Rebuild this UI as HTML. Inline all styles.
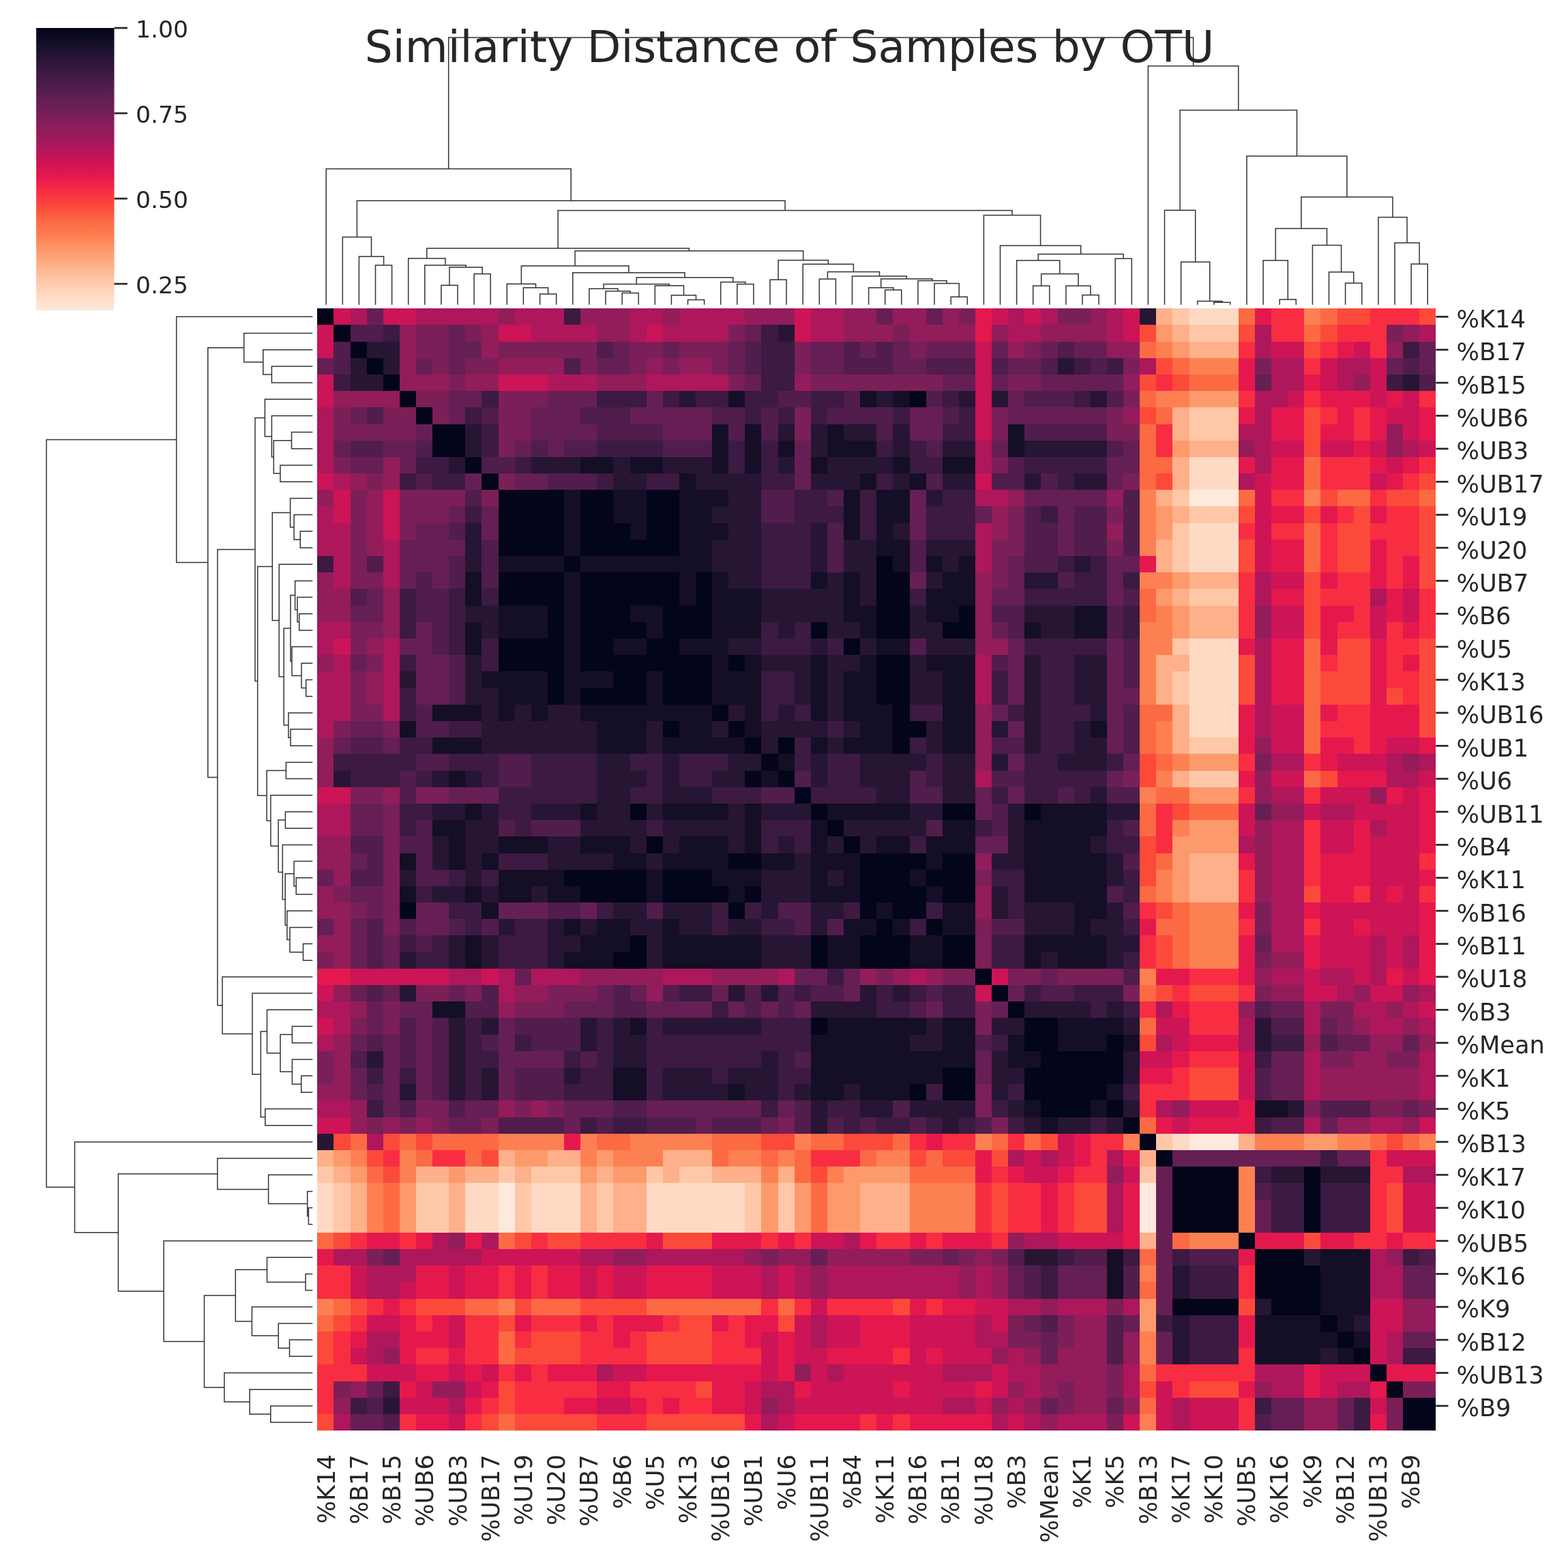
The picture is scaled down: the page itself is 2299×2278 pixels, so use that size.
<!DOCTYPE html><html><head><meta charset="utf-8"><style>html,body{margin:0;padding:0;background:#fff;overflow:hidden;}svg{display:block;}text{font-family:"DejaVu Sans","Liberation Sans",sans-serif;fill:#262626;}</style></head><body>
<svg width="2299" height="2278" viewBox="0 0 2299 2278">
<rect width="100%" height="100%" fill="#fff"/>
<defs><linearGradient id="cb" x1="0" y1="0" x2="0" y2="1"><stop offset="0.000" stop-color="#03051a"/><stop offset="0.025" stop-color="#0b0920"/><stop offset="0.050" stop-color="#130e25"/><stop offset="0.075" stop-color="#1c112c"/><stop offset="0.100" stop-color="#251433"/><stop offset="0.125" stop-color="#2f1739"/><stop offset="0.150" stop-color="#391940"/><stop offset="0.175" stop-color="#431b45"/><stop offset="0.200" stop-color="#4c1c4a"/><stop offset="0.225" stop-color="#561e4e"/><stop offset="0.250" stop-color="#611f52"/><stop offset="0.275" stop-color="#6b1f55"/><stop offset="0.300" stop-color="#751f58"/><stop offset="0.325" stop-color="#7f1e59"/><stop offset="0.350" stop-color="#8b1d5a"/><stop offset="0.375" stop-color="#961b5b"/><stop offset="0.400" stop-color="#a3195b"/><stop offset="0.425" stop-color="#b0175b"/><stop offset="0.450" stop-color="#bf1559"/><stop offset="0.475" stop-color="#cd1457"/><stop offset="0.500" stop-color="#d91653"/><stop offset="0.525" stop-color="#e4184e"/><stop offset="0.550" stop-color="#ee2149"/><stop offset="0.575" stop-color="#f72b43"/><stop offset="0.600" stop-color="#f9393f"/><stop offset="0.625" stop-color="#fb463b"/><stop offset="0.650" stop-color="#fb553d"/><stop offset="0.675" stop-color="#fc6442"/><stop offset="0.700" stop-color="#fc7148"/><stop offset="0.725" stop-color="#fd7b4f"/><stop offset="0.750" stop-color="#fd8759"/><stop offset="0.775" stop-color="#fd9365"/><stop offset="0.800" stop-color="#fd9e72"/><stop offset="0.825" stop-color="#fda980"/><stop offset="0.850" stop-color="#fdb48e"/><stop offset="0.875" stop-color="#febf9d"/><stop offset="0.900" stop-color="#fecaab"/><stop offset="0.925" stop-color="#fed2b8"/><stop offset="0.950" stop-color="#fedbc5"/><stop offset="0.975" stop-color="#fee2d1"/><stop offset="1.000" stop-color="#feeadc"/></linearGradient></defs>
<rect x="53.1" y="41.0" width="114.4" height="414.4" fill="url(#cb)"/>
<line x1="167.5" y1="41.0" x2="186.8" y2="41.0" stroke="#262626" stroke-width="2.7"/>
<text x="199.0" y="54.6" font-size="34.6">1.00</text>
<line x1="167.5" y1="166.0" x2="186.8" y2="166.0" stroke="#262626" stroke-width="2.7"/>
<text x="199.0" y="179.6" font-size="34.6">0.75</text>
<line x1="167.5" y1="291.1" x2="186.8" y2="291.1" stroke="#262626" stroke-width="2.7"/>
<text x="199.0" y="304.7" font-size="34.6">0.50</text>
<line x1="167.5" y1="416.1" x2="186.8" y2="416.1" stroke="#262626" stroke-width="2.7"/>
<text x="199.0" y="429.7" font-size="34.6">0.25</text>
<g transform="translate(465.3,452.2) scale(24.11765,24.19118)" shape-rendering="crispEdges">
<path fill="#03051a" d="M0 0h1v1h-1zM1 1h1v1h-1zM2 2h1v1h-1zM3 3h1v1h-1zM4 4h1v1h-1zM5 5h1v1h-1zM36 5h1v1h-1zM6 6h1v1h-1zM7 7h2v1h-2zM7 8h2v1h-2zM9 9h1v1h-1zM10 10h1v1h-1zM11 11h4v1h-4zM16 11h2v1h-2zM20 11h2v1h-2zM11 12h4v1h-4zM16 12h2v1h-2zM20 12h2v1h-2zM11 13h4v1h-4zM16 13h3v1h-3zM20 13h2v1h-2zM11 14h4v1h-4zM16 14h6v1h-6zM15 15h1v1h-1zM34 15h1v1h-1zM11 16h4v1h-4zM16 16h6v1h-6zM23 16h1v1h-1zM34 16h2v1h-2zM11 17h4v1h-4zM16 17h6v1h-6zM23 17h1v1h-1zM34 17h2v1h-2zM14 18h1v1h-1zM16 18h3v1h-3zM21 18h3v1h-3zM34 18h2v1h-2zM39 18h1v1h-1zM14 19h1v1h-1zM16 19h4v1h-4zM21 19h3v1h-3zM30 19h1v1h-1zM34 19h2v1h-2zM38 19h2v1h-2zM11 20h4v1h-4zM16 20h2v1h-2zM20 20h2v1h-2zM32 20h1v1h-1zM11 21h4v1h-4zM16 21h8v1h-8zM25 21h1v1h-1zM34 21h2v1h-2zM14 22h1v1h-1zM18 22h2v1h-2zM21 22h3v1h-3zM34 22h2v1h-2zM14 23h1v1h-1zM16 23h4v1h-4zM21 23h3v1h-3zM34 23h2v1h-2zM24 24h1v1h-1zM35 24h1v1h-1zM21 25h1v1h-1zM25 25h1v1h-1zM35 25h2v1h-2zM26 26h1v1h-1zM28 26h1v1h-1zM35 26h1v1h-1zM27 27h1v1h-1zM26 28h1v1h-1zM28 28h1v1h-1zM29 29h1v1h-1zM19 30h1v1h-1zM30 30h1v1h-1zM38 30h2v1h-2zM43 30h1v1h-1zM31 31h1v1h-1zM20 32h1v1h-1zM32 32h1v1h-1zM25 33h2v1h-2zM33 33h4v1h-4zM38 33h2v1h-2zM15 34h5v1h-5zM21 34h3v1h-3zM33 34h3v1h-3zM37 34h3v1h-3zM16 35h4v1h-4zM21 35h4v1h-4zM26 35h1v1h-1zM33 35h4v1h-4zM38 35h2v1h-2zM5 36h1v1h-1zM25 36h1v1h-1zM33 36h1v1h-1zM35 36h2v1h-2zM34 37h1v1h-1zM37 37h1v1h-1zM19 38h1v1h-1zM30 38h1v1h-1zM33 38h3v1h-3zM38 38h2v1h-2zM18 39h2v1h-2zM30 39h1v1h-1zM33 39h3v1h-3zM38 39h2v1h-2zM40 40h1v1h-1zM41 41h1v1h-1zM42 42h1v1h-1zM30 43h1v1h-1zM43 43h2v1h-2zM43 44h2v1h-2zM48 44h1v1h-1zM44 45h5v1h-5zM38 46h2v1h-2zM43 46h6v1h-6zM36 47h1v1h-1zM38 47h2v1h-2zM43 47h5v1h-5zM44 48h3v1h-3zM48 48h1v1h-1zM49 49h1v1h-1zM50 50h1v1h-1zM51 51h1v1h-1zM52 52h4v1h-4zM60 52h1v1h-1zM52 53h4v1h-4zM60 53h1v1h-1zM52 54h4v1h-4zM60 54h1v1h-1zM52 55h4v1h-4zM60 55h1v1h-1zM56 56h1v1h-1zM57 57h3v1h-3zM57 58h4v1h-4zM57 59h4v1h-4zM52 60h4v1h-4zM58 60h3v1h-3zM61 61h1v1h-1zM62 62h1v1h-1zM63 63h1v1h-1zM64 64h1v1h-1zM65 65h1v1h-1zM66 66h2v1h-2zM66 67h2v1h-2z"/>
<path fill="#140e26" d="M25 5h1v1h-1zM33 5h1v1h-1zM35 5h1v1h-1zM24 7h1v1h-1zM26 7h1v1h-1zM31 7h1v1h-1zM42 7h1v1h-1zM24 8h1v1h-1zM26 8h1v1h-1zM28 8h1v1h-1zM31 8h3v1h-3zM42 8h1v1h-1zM16 9h2v1h-2zM19 9h2v1h-2zM24 9h1v1h-1zM26 9h1v1h-1zM30 9h1v1h-1zM35 9h1v1h-1zM38 9h2v1h-2zM22 10h1v1h-1zM33 10h1v1h-1zM36 10h1v1h-1zM15 11h1v1h-1zM18 11h2v1h-2zM22 11h3v1h-3zM32 11h1v1h-1zM34 11h2v1h-2zM15 12h1v1h-1zM18 12h2v1h-2zM22 12h2v1h-2zM32 12h1v1h-1zM34 12h2v1h-2zM15 13h1v1h-1zM19 13h1v1h-1zM22 13h3v1h-3zM32 13h1v1h-1zM34 13h1v1h-1zM15 14h1v1h-1zM22 14h2v1h-2zM34 14h2v1h-2zM11 15h4v1h-4zM16 15h8v1h-8zM35 15h1v1h-1zM37 15h1v1h-1zM39 15h1v1h-1zM9 16h1v1h-1zM15 16h1v1h-1zM22 16h1v1h-1zM24 16h1v1h-1zM30 16h1v1h-1zM32 16h1v1h-1zM38 16h2v1h-2zM9 17h1v1h-1zM15 17h1v1h-1zM22 17h1v1h-1zM24 17h3v1h-3zM32 17h1v1h-1zM37 17h3v1h-3zM11 18h3v1h-3zM15 18h1v1h-1zM19 18h2v1h-2zM24 18h3v1h-3zM32 18h2v1h-2zM37 18h2v1h-2zM46 18h2v1h-2zM9 19h1v1h-1zM11 19h3v1h-3zM15 19h1v1h-1zM20 19h1v1h-1zM24 19h3v1h-3zM33 19h1v1h-1zM43 19h1v1h-1zM46 19h2v1h-2zM9 20h1v1h-1zM15 20h1v1h-1zM18 20h2v1h-2zM22 20h3v1h-3zM34 20h2v1h-2zM15 21h1v1h-1zM24 21h1v1h-1zM26 21h1v1h-1zM30 21h1v1h-1zM33 21h1v1h-1zM37 21h3v1h-3zM10 22h4v1h-4zM15 22h3v1h-3zM20 22h1v1h-1zM24 22h3v1h-3zM30 22h1v1h-1zM32 22h2v1h-2zM38 22h2v1h-2zM11 23h3v1h-3zM15 23h1v1h-1zM20 23h1v1h-1zM24 23h3v1h-3zM30 23h1v1h-1zM32 23h2v1h-2zM38 23h2v1h-2zM7 24h3v1h-3zM11 24h1v1h-1zM13 24h1v1h-1zM16 24h8v1h-8zM26 24h1v1h-1zM30 24h1v1h-1zM32 24h3v1h-3zM38 24h2v1h-2zM5 25h1v1h-1zM17 25h3v1h-3zM22 25h2v1h-2zM26 25h1v1h-1zM33 25h2v1h-2zM38 25h2v1h-2zM47 25h1v1h-1zM7 26h3v1h-3zM17 26h3v1h-3zM21 26h5v1h-5zM30 26h1v1h-1zM32 26h3v1h-3zM38 26h2v1h-2zM28 27h1v1h-1zM8 28h1v1h-1zM27 28h1v1h-1zM9 30h1v1h-1zM16 30h1v1h-1zM21 30h4v1h-4zM26 30h1v1h-1zM31 30h5v1h-5zM44 30h4v1h-4zM7 31h2v1h-2zM26 31h1v1h-1zM30 31h1v1h-1zM38 31h2v1h-2zM43 31h5v1h-5zM8 32h1v1h-1zM11 32h3v1h-3zM16 32h3v1h-3zM22 32h3v1h-3zM26 32h1v1h-1zM30 32h1v1h-1zM34 32h2v1h-2zM37 32h3v1h-3zM43 32h4v1h-4zM5 33h1v1h-1zM8 33h1v1h-1zM10 33h1v1h-1zM18 33h2v1h-2zM21 33h4v1h-4zM27 33h2v1h-2zM30 33h3v1h-3zM37 33h1v1h-1zM43 33h5v1h-5zM11 34h4v1h-4zM20 34h1v1h-1zM24 34h3v1h-3zM30 34h1v1h-1zM32 34h1v1h-1zM36 34h1v1h-1zM43 34h5v1h-5zM5 35h1v1h-1zM9 35h1v1h-1zM11 35h2v1h-2zM14 35h2v1h-2zM20 35h1v1h-1zM25 35h1v1h-1zM30 35h3v1h-3zM37 35h1v1h-1zM43 35h5v1h-5zM10 36h1v1h-1zM34 36h1v1h-1zM38 36h2v1h-2zM46 36h2v1h-2zM15 37h1v1h-1zM17 37h2v1h-2zM21 37h1v1h-1zM32 37h2v1h-2zM35 37h1v1h-1zM38 37h2v1h-2zM46 37h1v1h-1zM9 38h1v1h-1zM16 38h3v1h-3zM21 38h6v1h-6zM31 38h2v1h-2zM36 38h2v1h-2zM43 38h5v1h-5zM9 39h1v1h-1zM15 39h3v1h-3zM21 39h6v1h-6zM31 39h2v1h-2zM36 39h2v1h-2zM43 39h1v1h-1zM45 39h3v1h-3zM7 42h2v1h-2zM19 43h1v1h-1zM31 43h6v1h-6zM38 43h2v1h-2zM45 43h4v1h-4zM30 44h6v1h-6zM38 44h2v1h-2zM42 44h1v1h-1zM45 44h3v1h-3zM49 44h1v1h-1zM30 45h10v1h-10zM42 45h2v1h-2zM18 46h2v1h-2zM30 46h8v1h-8zM18 47h2v1h-2zM25 47h1v1h-1zM30 47h2v1h-2zM33 47h3v1h-3zM48 47h1v1h-1zM43 48h1v1h-1zM47 48h1v1h-1zM57 48h2v1h-2zM44 49h1v1h-1zM48 57h1v1h-1zM61 57h3v1h-3zM48 58h1v1h-1zM61 58h3v1h-3zM48 59h1v1h-1zM61 59h3v1h-3zM61 60h3v1h-3zM57 61h4v1h-4zM62 61h1v1h-1zM57 62h5v1h-5zM63 62h1v1h-1zM57 63h4v1h-4zM62 63h1v1h-1z"/>
<path fill="#271534" d="M50 0h1v1h-1zM28 1h1v1h-1zM3 2h2v1h-2zM2 3h1v1h-1zM4 3h1v1h-1zM45 3h1v1h-1zM2 4h2v1h-2zM66 4h1v1h-1zM22 5h1v1h-1zM34 5h1v1h-1zM39 5h1v1h-1zM41 5h1v1h-1zM47 5h1v1h-1zM9 7h1v1h-1zM28 7h1v1h-1zM30 7h1v1h-1zM32 7h2v1h-2zM35 7h1v1h-1zM9 8h1v1h-1zM30 8h1v1h-1zM35 8h1v1h-1zM38 8h2v1h-2zM43 8h5v1h-5zM8 9h1v1h-1zM13 9h3v1h-3zM18 9h1v1h-1zM21 9h3v1h-3zM28 9h1v1h-1zM31 9h4v1h-4zM18 10h2v1h-2zM23 10h4v1h-4zM30 10h3v1h-3zM35 10h1v1h-1zM38 10h2v1h-2zM43 10h1v1h-1zM46 10h2v1h-2zM25 11h2v1h-2zM37 11h1v1h-1zM24 12h3v1h-3zM9 13h1v1h-1zM25 13h2v1h-2zM30 13h1v1h-1zM35 13h1v1h-1zM9 14h1v1h-1zM24 14h3v1h-3zM30 14h1v1h-1zM32 14h2v1h-2zM37 14h3v1h-3zM9 15h1v1h-1zM24 15h3v1h-3zM30 15h1v1h-1zM32 15h2v1h-2zM38 15h1v1h-1zM46 15h1v1h-1zM25 16h2v1h-2zM31 16h1v1h-1zM33 16h1v1h-1zM37 16h1v1h-1zM43 16h2v1h-2zM27 17h5v1h-5zM33 17h1v1h-1zM9 18h2v1h-2zM27 18h5v1h-5zM36 18h1v1h-1zM43 18h3v1h-3zM10 19h1v1h-1zM28 19h1v1h-1zM31 19h2v1h-2zM36 19h2v1h-2zM44 19h2v1h-2zM25 20h2v1h-2zM30 20h1v1h-1zM33 20h1v1h-1zM37 20h3v1h-3zM9 21h1v1h-1zM27 21h3v1h-3zM31 21h2v1h-2zM36 21h1v1h-1zM43 21h1v1h-1zM46 21h2v1h-2zM5 22h1v1h-1zM9 22h1v1h-1zM29 22h1v1h-1zM31 22h1v1h-1zM36 22h2v1h-2zM43 22h1v1h-1zM46 22h2v1h-2zM9 23h2v1h-2zM29 23h1v1h-1zM31 23h1v1h-1zM36 23h2v1h-2zM43 23h1v1h-1zM46 23h2v1h-2zM10 24h1v1h-1zM12 24h1v1h-1zM14 24h2v1h-2zM25 24h1v1h-1zM28 24h1v1h-1zM31 24h1v1h-1zM43 24h1v1h-1zM47 24h1v1h-1zM10 25h7v1h-7zM20 25h1v1h-1zM24 25h1v1h-1zM27 25h4v1h-4zM32 25h1v1h-1zM37 25h1v1h-1zM41 25h1v1h-1zM43 25h1v1h-1zM46 25h1v1h-1zM10 26h7v1h-7zM20 26h1v1h-1zM27 26h1v1h-1zM31 26h1v1h-1zM37 26h1v1h-1zM43 26h1v1h-1zM46 26h2v1h-2zM17 27h2v1h-2zM21 27h1v1h-1zM25 27h2v1h-2zM30 27h1v1h-1zM33 27h4v1h-4zM38 27h2v1h-2zM41 27h1v1h-1zM45 27h3v1h-3zM1 28h1v1h-1zM7 28h1v1h-1zM9 28h1v1h-1zM17 28h3v1h-3zM21 28h1v1h-1zM24 28h2v1h-2zM30 28h1v1h-1zM33 28h3v1h-3zM38 28h2v1h-2zM17 29h2v1h-2zM21 29h3v1h-3zM34 29h2v1h-2zM38 29h2v1h-2zM47 29h1v1h-1zM7 30h2v1h-2zM10 30h1v1h-1zM13 30h3v1h-3zM17 30h2v1h-2zM20 30h1v1h-1zM25 30h1v1h-1zM27 30h3v1h-3zM36 30h2v1h-2zM42 30h1v1h-1zM48 30h2v1h-2zM9 31h2v1h-2zM16 31h4v1h-4zM21 31h5v1h-5zM32 31h5v1h-5zM42 31h1v1h-1zM7 32h1v1h-1zM9 32h2v1h-2zM14 32h2v1h-2zM19 32h1v1h-1zM21 32h1v1h-1zM25 32h1v1h-1zM28 32h1v1h-1zM31 32h1v1h-1zM33 32h1v1h-1zM42 32h1v1h-1zM47 32h1v1h-1zM7 33h1v1h-1zM9 33h1v1h-1zM14 33h4v1h-4zM20 33h1v1h-1zM29 33h1v1h-1zM41 33h2v1h-2zM48 33h1v1h-1zM5 34h1v1h-1zM9 34h1v1h-1zM27 34h3v1h-3zM31 34h1v1h-1zM48 34h1v1h-1zM7 35h2v1h-2zM10 35h1v1h-1zM13 35h1v1h-1zM27 35h3v1h-3zM41 35h1v1h-1zM18 36h2v1h-2zM21 36h3v1h-3zM27 36h1v1h-1zM30 36h2v1h-2zM41 36h1v1h-1zM43 36h3v1h-3zM48 36h1v1h-1zM11 37h1v1h-1zM14 37h1v1h-1zM16 37h1v1h-1zM19 37h2v1h-2zM22 37h2v1h-2zM25 37h2v1h-2zM30 37h1v1h-1zM43 37h3v1h-3zM47 37h2v1h-2zM8 38h1v1h-1zM10 38h1v1h-1zM14 38h2v1h-2zM20 38h1v1h-1zM27 38h3v1h-3zM48 38h2v1h-2zM5 39h1v1h-1zM8 39h1v1h-1zM10 39h1v1h-1zM14 39h1v1h-1zM20 39h1v1h-1zM27 39h3v1h-3zM44 39h1v1h-1zM48 39h1v1h-1zM5 41h1v1h-1zM25 41h1v1h-1zM27 41h1v1h-1zM33 41h1v1h-1zM35 41h1v1h-1zM30 42h4v1h-4zM43 42h4v1h-4zM48 42h1v1h-1zM8 43h1v1h-1zM10 43h1v1h-1zM16 43h1v1h-1zM18 43h1v1h-1zM21 43h6v1h-6zM37 43h1v1h-1zM41 43h2v1h-2zM49 43h1v1h-1zM57 43h1v1h-1zM8 44h1v1h-1zM16 44h1v1h-1zM18 44h2v1h-2zM36 44h2v1h-2zM57 44h1v1h-1zM3 45h1v1h-1zM8 45h1v1h-1zM18 45h2v1h-2zM27 45h1v1h-1zM41 45h1v1h-1zM49 45h1v1h-1zM8 46h1v1h-1zM10 46h1v1h-1zM15 46h1v1h-1zM21 46h3v1h-3zM25 46h3v1h-3zM41 46h2v1h-2zM49 46h1v1h-1zM5 47h1v1h-1zM8 47h1v1h-1zM10 47h1v1h-1zM21 47h4v1h-4zM26 47h2v1h-2zM29 47h1v1h-1zM32 47h1v1h-1zM41 47h1v1h-1zM30 48h1v1h-1zM33 48h2v1h-2zM36 48h4v1h-4zM42 48h1v1h-1zM49 48h1v1h-1zM59 48h1v1h-1zM30 49h1v1h-1zM38 49h1v1h-1zM43 49h1v1h-1zM45 49h2v1h-2zM48 49h1v1h-1zM0 50h1v1h-1zM58 52h2v1h-2zM61 52h3v1h-3zM43 57h2v1h-2zM60 57h1v1h-1zM52 58h1v1h-1zM52 59h1v1h-1zM57 60h1v1h-1zM52 61h1v1h-1zM63 61h1v1h-1zM52 62h1v1h-1zM52 63h1v1h-1zM61 63h1v1h-1zM4 66h1v1h-1z"/>
<path fill="#3c1a42" d="M15 0h1v1h-1zM4 1h1v1h-1zM27 1h1v1h-1zM27 2h2v1h-2zM66 2h1v1h-1zM27 3h2v1h-2zM46 3h1v1h-1zM48 3h1v1h-1zM1 4h1v1h-1zM27 4h2v1h-2zM65 4h1v1h-1zM10 5h1v1h-1zM17 5h3v1h-3zM21 5h1v1h-1zM23 5h2v1h-2zM26 5h2v1h-2zM30 5h2v1h-2zM38 5h1v1h-1zM46 5h1v1h-1zM9 6h1v1h-1zM26 6h1v1h-1zM28 6h1v1h-1zM30 6h1v1h-1zM35 6h1v1h-1zM39 6h1v1h-1zM10 7h1v1h-1zM38 7h2v1h-2zM10 8h1v1h-1zM17 8h4v1h-4zM25 8h1v1h-1zM27 8h1v1h-1zM34 8h1v1h-1zM36 8h1v1h-1zM6 9h2v1h-2zM12 9h1v1h-1zM25 9h1v1h-1zM27 9h1v1h-1zM36 9h2v1h-2zM43 9h5v1h-5zM5 10h1v1h-1zM7 10h2v1h-2zM17 10h1v1h-1zM20 10h2v1h-2zM27 10h2v1h-2zM34 10h1v1h-1zM45 10h1v1h-1zM29 11h2v1h-2zM33 11h1v1h-1zM38 11h2v1h-2zM9 12h1v1h-1zM29 12h3v1h-3zM33 12h1v1h-1zM37 12h3v1h-3zM44 12h1v1h-1zM27 13h3v1h-3zM33 13h1v1h-1zM37 13h3v1h-3zM27 14h3v1h-3zM0 15h1v1h-1zM27 15h3v1h-3zM45 15h1v1h-1zM47 15h1v1h-1zM27 16h3v1h-3zM46 16h2v1h-2zM49 16h1v1h-1zM5 17h1v1h-1zM8 17h1v1h-1zM10 17h1v1h-1zM36 17h1v1h-1zM43 17h5v1h-5zM5 18h1v1h-1zM8 18h1v1h-1zM49 18h1v1h-1zM5 19h1v1h-1zM8 19h1v1h-1zM27 19h1v1h-1zM29 19h1v1h-1zM49 19h1v1h-1zM8 20h1v1h-1zM10 20h1v1h-1zM27 20h3v1h-3zM31 20h1v1h-1zM43 20h5v1h-5zM5 21h1v1h-1zM10 21h1v1h-1zM44 21h2v1h-2zM27 22h2v1h-2zM41 22h1v1h-1zM44 22h2v1h-2zM5 23h1v1h-1zM27 23h2v1h-2zM41 23h1v1h-1zM44 23h2v1h-2zM5 24h1v1h-1zM27 24h1v1h-1zM29 24h1v1h-1zM36 24h2v1h-2zM42 24h1v1h-1zM44 24h3v1h-3zM8 25h2v1h-2zM31 25h1v1h-1zM44 25h2v1h-2zM5 26h2v1h-2zM29 26h1v1h-1zM36 26h1v1h-1zM44 26h2v1h-2zM1 27h5v1h-5zM8 27h3v1h-3zM13 27h4v1h-4zM19 27h2v1h-2zM22 27h3v1h-3zM29 27h1v1h-1zM31 27h2v1h-2zM37 27h1v1h-1zM43 27h2v1h-2zM48 27h1v1h-1zM2 28h3v1h-3zM6 28h1v1h-1zM10 28h1v1h-1zM13 28h4v1h-4zM20 28h1v1h-1zM22 28h2v1h-2zM31 28h2v1h-2zM37 28h1v1h-1zM43 28h5v1h-5zM11 29h6v1h-6zM19 29h2v1h-2zM24 29h3v1h-3zM30 29h4v1h-4zM41 29h1v1h-1zM43 29h2v1h-2zM46 29h1v1h-1zM5 30h2v1h-2zM11 30h2v1h-2zM5 31h1v1h-1zM12 31h1v1h-1zM20 31h1v1h-1zM27 31h3v1h-3zM40 31h1v1h-1zM48 31h1v1h-1zM27 32h1v1h-1zM29 32h1v1h-1zM36 32h1v1h-1zM48 32h2v1h-2zM11 33h3v1h-3zM8 34h1v1h-1zM10 34h1v1h-1zM41 34h2v1h-2zM49 34h1v1h-1zM6 35h1v1h-1zM42 35h1v1h-1zM49 35h1v1h-1zM8 36h2v1h-2zM17 36h1v1h-1zM24 36h1v1h-1zM26 36h1v1h-1zM32 36h1v1h-1zM37 36h1v1h-1zM42 36h1v1h-1zM9 37h1v1h-1zM12 37h2v1h-2zM24 37h1v1h-1zM27 37h2v1h-2zM36 37h1v1h-1zM49 37h1v1h-1zM5 38h1v1h-1zM7 38h1v1h-1zM11 38h3v1h-3zM41 38h2v1h-2zM6 39h2v1h-2zM11 39h3v1h-3zM41 39h2v1h-2zM49 39h1v1h-1zM31 40h1v1h-1zM22 41h2v1h-2zM29 41h1v1h-1zM34 41h1v1h-1zM36 41h1v1h-1zM38 41h2v1h-2zM43 41h1v1h-1zM46 41h3v1h-3zM24 42h1v1h-1zM34 42h2v1h-2zM38 42h2v1h-2zM47 42h1v1h-1zM49 42h1v1h-1zM9 43h1v1h-1zM17 43h1v1h-1zM20 43h1v1h-1zM27 43h3v1h-3zM9 44h1v1h-1zM12 44h1v1h-1zM17 44h1v1h-1zM20 44h10v1h-10zM41 44h1v1h-1zM58 44h2v1h-2zM9 45h2v1h-2zM15 45h1v1h-1zM17 45h1v1h-1zM20 45h7v1h-7zM28 45h1v1h-1zM57 45h1v1h-1zM3 46h1v1h-1zM5 46h1v1h-1zM9 46h1v1h-1zM16 46h2v1h-2zM20 46h1v1h-1zM24 46h1v1h-1zM28 46h2v1h-2zM9 47h1v1h-1zM15 47h3v1h-3zM20 47h1v1h-1zM28 47h1v1h-1zM37 47h1v1h-1zM42 47h1v1h-1zM49 47h1v1h-1zM3 48h1v1h-1zM27 48h1v1h-1zM31 48h2v1h-2zM41 48h1v1h-1zM16 49h1v1h-1zM18 49h2v1h-2zM32 49h1v1h-1zM34 49h2v1h-2zM37 49h1v1h-1zM39 49h1v1h-1zM42 49h1v1h-1zM47 49h1v1h-1zM57 49h1v1h-1zM61 51h1v1h-1zM57 52h1v1h-1zM58 53h2v1h-2zM61 53h3v1h-3zM58 54h2v1h-2zM61 54h3v1h-3zM58 55h2v1h-2zM61 55h3v1h-3zM45 57h1v1h-1zM49 57h1v1h-1zM52 57h1v1h-1zM66 57h1v1h-1zM44 58h1v1h-1zM53 58h3v1h-3zM44 59h1v1h-1zM53 59h3v1h-3zM51 61h1v1h-1zM53 61h3v1h-3zM53 62h3v1h-3zM53 63h3v1h-3zM66 63h2v1h-2zM4 65h1v1h-1zM2 66h1v1h-1zM57 66h1v1h-1zM63 66h1v1h-1zM63 67h1v1h-1z"/>
<path fill="#501d4c" d="M2 1h2v1h-2zM1 2h1v1h-1zM17 2h1v1h-1zM26 2h1v1h-1zM32 2h1v1h-1zM34 2h1v1h-1zM45 2h1v1h-1zM1 3h1v1h-1zM15 3h1v1h-1zM26 3h1v1h-1zM32 3h3v1h-3zM37 3h3v1h-3zM41 3h1v1h-1zM44 3h1v1h-1zM47 3h1v1h-1zM66 3h1v1h-1zM67 4h1v1h-1zM28 5h2v1h-2zM32 5h1v1h-1zM37 5h1v1h-1zM43 5h3v1h-3zM48 5h1v1h-1zM3 6h1v1h-1zM10 6h1v1h-1zM16 6h3v1h-3zM24 6h2v1h-2zM27 6h1v1h-1zM31 6h4v1h-4zM38 6h1v1h-1zM17 7h4v1h-4zM25 7h1v1h-1zM27 7h1v1h-1zM34 7h1v1h-1zM43 7h5v1h-5zM2 8h2v1h-2zM6 8h1v1h-1zM13 8h1v1h-1zM15 8h2v1h-2zM21 8h3v1h-3zM37 8h1v1h-1zM48 8h1v1h-1zM10 9h2v1h-2zM42 9h1v1h-1zM6 10h1v1h-1zM14 10h3v1h-3zM37 10h1v1h-1zM41 10h2v1h-2zM44 10h1v1h-1zM9 11h1v1h-1zM27 11h2v1h-2zM31 11h1v1h-1zM49 11h1v1h-1zM27 12h2v1h-2zM43 12h1v1h-1zM46 12h2v1h-2zM49 12h1v1h-1zM8 13h1v1h-1zM31 13h1v1h-1zM43 13h2v1h-2zM46 13h2v1h-2zM49 13h1v1h-1zM10 14h1v1h-1zM31 14h1v1h-1zM36 14h1v1h-1zM43 14h2v1h-2zM46 14h2v1h-2zM49 14h1v1h-1zM3 15h1v1h-1zM8 15h1v1h-1zM10 15h1v1h-1zM31 15h1v1h-1zM36 15h1v1h-1zM43 15h2v1h-2zM6 16h1v1h-1zM8 16h1v1h-1zM10 16h1v1h-1zM45 16h1v1h-1zM2 17h1v1h-1zM6 17h2v1h-2zM49 17h1v1h-1zM6 18h2v1h-2zM41 18h2v1h-2zM48 18h1v1h-1zM7 19h1v1h-1zM42 19h1v1h-1zM48 19h1v1h-1zM7 20h1v1h-1zM36 20h1v1h-1zM49 20h1v1h-1zM8 21h1v1h-1zM41 21h1v1h-1zM49 21h1v1h-1zM8 22h1v1h-1zM49 22h1v1h-1zM8 23h1v1h-1zM6 24h1v1h-1zM49 24h1v1h-1zM6 25h2v1h-2zM49 25h1v1h-1zM2 26h2v1h-2zM41 26h2v1h-2zM49 26h1v1h-1zM6 27h2v1h-2zM11 27h2v1h-2zM5 28h1v1h-1zM11 28h2v1h-2zM29 28h1v1h-1zM36 28h1v1h-1zM41 28h2v1h-2zM5 29h1v1h-1zM27 29h2v1h-2zM36 29h2v1h-2zM45 29h1v1h-1zM48 29h2v1h-2zM41 30h1v1h-1zM6 31h1v1h-1zM11 31h1v1h-1zM13 31h3v1h-3zM37 31h1v1h-1zM41 31h1v1h-1zM49 31h1v1h-1zM2 32h2v1h-2zM5 32h2v1h-2zM3 33h1v1h-1zM6 33h1v1h-1zM49 33h1v1h-1zM2 34h2v1h-2zM6 34h2v1h-2zM48 35h1v1h-1zM14 36h2v1h-2zM20 36h1v1h-1zM28 36h2v1h-2zM49 36h1v1h-1zM3 37h1v1h-1zM5 37h1v1h-1zM8 37h1v1h-1zM10 37h1v1h-1zM29 37h1v1h-1zM31 37h1v1h-1zM41 37h2v1h-2zM3 38h1v1h-1zM6 38h1v1h-1zM3 39h1v1h-1zM49 40h1v1h-1zM3 41h1v1h-1zM10 41h1v1h-1zM18 41h1v1h-1zM21 41h1v1h-1zM26 41h1v1h-1zM28 41h1v1h-1zM30 41h2v1h-2zM37 41h1v1h-1zM44 41h2v1h-2zM9 42h2v1h-2zM18 42h2v1h-2zM26 42h1v1h-1zM28 42h1v1h-1zM36 42h1v1h-1zM57 42h1v1h-1zM5 43h1v1h-1zM7 43h1v1h-1zM12 43h4v1h-4zM58 43h2v1h-2zM3 44h1v1h-1zM5 44h1v1h-1zM7 44h1v1h-1zM10 44h1v1h-1zM13 44h3v1h-3zM40 44h1v1h-1zM61 44h1v1h-1zM2 45h1v1h-1zM5 45h1v1h-1zM7 45h1v1h-1zM16 45h1v1h-1zM29 45h1v1h-1zM7 46h1v1h-1zM12 46h3v1h-3zM57 46h1v1h-1zM3 47h1v1h-1zM7 47h1v1h-1zM12 47h3v1h-3zM57 47h1v1h-1zM5 48h1v1h-1zM8 48h1v1h-1zM18 48h2v1h-2zM29 48h1v1h-1zM35 48h1v1h-1zM61 48h3v1h-3zM11 49h4v1h-4zM17 49h1v1h-1zM20 49h3v1h-3zM24 49h3v1h-3zM29 49h1v1h-1zM31 49h1v1h-1zM33 49h1v1h-1zM36 49h1v1h-1zM40 49h1v1h-1zM58 49h2v1h-2zM57 53h1v1h-1zM42 57h1v1h-1zM46 57h2v1h-2zM53 57h3v1h-3zM67 57h1v1h-1zM43 58h1v1h-1zM49 58h1v1h-1zM43 59h1v1h-1zM49 59h1v1h-1zM44 61h1v1h-1zM48 61h1v1h-1zM48 62h1v1h-1zM48 63h1v1h-1zM3 66h1v1h-1zM4 67h1v1h-1zM57 67h1v1h-1z"/>
<path fill="#661f54" d="M3 0h1v1h-1zM34 0h1v1h-1zM37 0h1v1h-1zM8 1h1v1h-1zM26 1h1v1h-1zM8 2h2v1h-2zM18 2h1v1h-1zM21 2h1v1h-1zM25 2h1v1h-1zM30 2h2v1h-2zM33 2h1v1h-1zM35 2h1v1h-1zM37 2h3v1h-3zM41 2h1v1h-1zM44 2h1v1h-1zM46 2h2v1h-2zM67 2h1v1h-1zM0 3h1v1h-1zM6 3h1v1h-1zM8 3h1v1h-1zM17 3h2v1h-2zM25 3h1v1h-1zM30 3h2v1h-2zM35 3h2v1h-2zM42 3h2v1h-2zM65 3h1v1h-1zM67 3h1v1h-1zM26 4h1v1h-1zM38 4h2v1h-2zM41 4h1v1h-1zM44 4h5v1h-5zM57 4h1v1h-1zM8 5h2v1h-2zM14 5h3v1h-3zM20 5h1v1h-1zM42 5h1v1h-1zM2 6h1v1h-1zM8 6h1v1h-1zM13 6h3v1h-3zM19 6h5v1h-5zM36 6h2v1h-2zM42 6h6v1h-6zM6 7h1v1h-1zM13 7h4v1h-4zM21 7h3v1h-3zM36 7h2v1h-2zM1 8h1v1h-1zM4 8h2v1h-2zM12 8h1v1h-1zM14 8h1v1h-1zM29 8h1v1h-1zM41 8h1v1h-1zM49 8h1v1h-1zM2 9h2v1h-2zM5 9h1v1h-1zM29 9h1v1h-1zM48 9h2v1h-2zM9 10h1v1h-1zM12 10h2v1h-2zM29 10h1v1h-1zM48 10h1v1h-1zM36 11h1v1h-1zM43 11h5v1h-5zM8 12h1v1h-1zM10 12h1v1h-1zM36 12h1v1h-1zM40 12h1v1h-1zM45 12h1v1h-1zM6 13h2v1h-2zM10 13h1v1h-1zM36 13h1v1h-1zM45 13h1v1h-1zM5 14h4v1h-4zM45 14h1v1h-1zM5 15h3v1h-3zM42 15h1v1h-1zM48 15h2v1h-2zM5 16h1v1h-1zM7 16h1v1h-1zM36 16h1v1h-1zM42 16h1v1h-1zM48 16h1v1h-1zM3 17h1v1h-1zM41 17h2v1h-2zM48 17h1v1h-1zM2 18h2v1h-2zM6 19h1v1h-1zM41 19h1v1h-1zM5 20h2v1h-2zM42 20h1v1h-1zM48 20h1v1h-1zM2 21h1v1h-1zM6 21h2v1h-2zM42 21h1v1h-1zM48 21h1v1h-1zM6 22h2v1h-2zM42 22h1v1h-1zM48 22h1v1h-1zM6 23h2v1h-2zM42 23h1v1h-1zM48 23h2v1h-2zM41 24h1v1h-1zM48 24h1v1h-1zM2 25h2v1h-2zM42 25h1v1h-1zM48 25h1v1h-1zM1 26h1v1h-1zM4 26h1v1h-1zM48 26h1v1h-1zM42 27h1v1h-1zM49 27h1v1h-1zM48 28h1v1h-1zM8 29h3v1h-3zM40 29h1v1h-1zM42 29h1v1h-1zM2 30h2v1h-2zM40 30h1v1h-1zM57 30h1v1h-1zM2 31h2v1h-2zM40 32h2v1h-2zM2 33h1v1h-1zM0 34h1v1h-1zM2 35h2v1h-2zM3 36h1v1h-1zM6 36h2v1h-2zM11 36h3v1h-3zM16 36h1v1h-1zM0 37h1v1h-1zM2 37h1v1h-1zM6 37h2v1h-2zM2 38h1v1h-1zM4 38h1v1h-1zM57 38h1v1h-1zM2 39h1v1h-1zM4 39h1v1h-1zM12 40h1v1h-1zM29 40h2v1h-2zM32 40h1v1h-1zM44 40h1v1h-1zM2 41h1v1h-1zM4 41h1v1h-1zM8 41h1v1h-1zM17 41h1v1h-1zM19 41h1v1h-1zM24 41h1v1h-1zM32 41h1v1h-1zM42 41h1v1h-1zM3 42h1v1h-1zM5 42h2v1h-2zM15 42h3v1h-3zM20 42h4v1h-4zM25 42h1v1h-1zM27 42h1v1h-1zM29 42h1v1h-1zM37 42h1v1h-1zM41 42h1v1h-1zM58 42h2v1h-2zM3 43h1v1h-1zM6 43h1v1h-1zM11 43h1v1h-1zM61 43h1v1h-1zM2 44h1v1h-1zM4 44h1v1h-1zM6 44h1v1h-1zM11 44h1v1h-1zM62 44h2v1h-2zM66 44h1v1h-1zM4 45h1v1h-1zM6 45h1v1h-1zM11 45h4v1h-4zM40 45h1v1h-1zM58 45h2v1h-2zM2 46h1v1h-1zM4 46h1v1h-1zM6 46h1v1h-1zM11 46h1v1h-1zM40 46h1v1h-1zM58 46h2v1h-2zM2 47h1v1h-1zM4 47h1v1h-1zM6 47h1v1h-1zM11 47h1v1h-1zM58 47h2v1h-2zM4 48h1v1h-1zM9 48h2v1h-2zM15 48h3v1h-3zM20 48h7v1h-7zM28 48h1v1h-1zM66 48h1v1h-1zM8 49h2v1h-2zM15 49h1v1h-1zM23 49h1v1h-1zM27 49h1v1h-1zM61 49h1v1h-1zM52 51h9v1h-9zM62 51h2v1h-2zM51 52h1v1h-1zM51 53h1v1h-1zM51 54h1v1h-1zM57 54h1v1h-1zM51 55h1v1h-1zM57 55h1v1h-1zM51 56h1v1h-1zM4 57h1v1h-1zM30 57h1v1h-1zM38 57h1v1h-1zM51 57h1v1h-1zM42 58h1v1h-1zM45 58h3v1h-3zM51 58h1v1h-1zM66 58h2v1h-2zM42 59h1v1h-1zM45 59h3v1h-3zM51 59h1v1h-1zM66 59h2v1h-2zM51 60h1v1h-1zM43 61h1v1h-1zM49 61h1v1h-1zM44 62h1v1h-1zM51 62h1v1h-1zM66 62h2v1h-2zM44 63h1v1h-1zM51 63h1v1h-1zM3 65h1v1h-1zM44 66h1v1h-1zM48 66h1v1h-1zM58 66h2v1h-2zM62 66h1v1h-1zM2 67h2v1h-2zM58 67h2v1h-2zM62 67h1v1h-1z"/>
<path fill="#7b1f59" d="M39 0h1v1h-1zM45 0h2v1h-2zM6 1h2v1h-2zM9 1h1v1h-1zM25 1h1v1h-1zM35 1h1v1h-1zM65 1h1v1h-1zM6 2h2v1h-2zM11 2h6v1h-6zM19 2h2v1h-2zM22 2h3v1h-3zM29 2h1v1h-1zM36 2h1v1h-1zM43 2h1v1h-1zM7 3h1v1h-1zM9 3h2v1h-2zM16 3h1v1h-1zM19 3h1v1h-1zM21 3h1v1h-1zM24 3h1v1h-1zM29 3h1v1h-1zM49 3h1v1h-1zM57 3h1v1h-1zM8 4h1v1h-1zM25 4h1v1h-1zM30 4h8v1h-8zM42 4h2v1h-2zM6 5h2v1h-2zM11 5h3v1h-3zM49 5h1v1h-1zM1 6h1v1h-1zM4 6h2v1h-2zM7 6h1v1h-1zM11 6h2v1h-2zM29 6h1v1h-1zM41 6h1v1h-1zM48 6h1v1h-1zM1 7h5v1h-5zM11 7h2v1h-2zM29 7h1v1h-1zM41 7h1v1h-1zM48 7h2v1h-2zM11 8h1v1h-1zM1 9h1v1h-1zM41 9h1v1h-1zM3 10h1v1h-1zM11 10h1v1h-1zM49 10h1v1h-1zM2 11h1v1h-1zM5 11h4v1h-4zM10 11h1v1h-1zM2 12h1v1h-1zM5 12h3v1h-3zM42 12h1v1h-1zM48 12h1v1h-1zM2 13h1v1h-1zM5 13h1v1h-1zM42 13h1v1h-1zM2 14h1v1h-1zM41 14h2v1h-2zM48 14h1v1h-1zM2 15h1v1h-1zM41 15h1v1h-1zM2 16h2v1h-2zM41 16h1v1h-1zM2 19h2v1h-2zM2 20h1v1h-1zM3 21h1v1h-1zM2 22h1v1h-1zM2 23h1v1h-1zM2 24h2v1h-2zM1 25h1v1h-1zM4 25h1v1h-1zM57 27h1v1h-1zM49 28h1v1h-1zM2 29h2v1h-2zM6 29h2v1h-2zM4 30h1v1h-1zM4 31h1v1h-1zM4 32h1v1h-1zM4 33h1v1h-1zM4 34h1v1h-1zM40 34h1v1h-1zM1 35h1v1h-1zM4 35h1v1h-1zM2 36h1v1h-1zM4 36h1v1h-1zM57 36h1v1h-1zM4 37h1v1h-1zM40 37h1v1h-1zM57 37h1v1h-1zM40 38h1v1h-1zM0 39h1v1h-1zM40 39h1v1h-1zM57 39h1v1h-1zM34 40h1v1h-1zM38 40h2v1h-2zM42 40h2v1h-2zM45 40h4v1h-4zM6 41h2v1h-2zM9 41h1v1h-1zM14 41h3v1h-3zM49 41h1v1h-1zM57 41h1v1h-1zM4 42h1v1h-1zM12 42h3v1h-3zM40 42h1v1h-1zM61 42h2v1h-2zM2 43h1v1h-1zM4 43h1v1h-1zM40 43h1v1h-1zM62 43h1v1h-1zM0 45h1v1h-1zM61 45h2v1h-2zM65 45h2v1h-2zM0 46h1v1h-1zM40 47h1v1h-1zM6 48h2v1h-2zM12 48h1v1h-1zM14 48h1v1h-1zM40 48h1v1h-1zM60 48h1v1h-1zM64 48h2v1h-2zM67 48h1v1h-1zM3 49h1v1h-1zM5 49h1v1h-1zM7 49h1v1h-1zM10 49h1v1h-1zM28 49h1v1h-1zM41 49h1v1h-1zM3 57h1v1h-1zM27 57h1v1h-1zM36 57h2v1h-2zM39 57h1v1h-1zM41 57h1v1h-1zM48 60h1v1h-1zM42 61h1v1h-1zM45 61h1v1h-1zM42 62h2v1h-2zM45 62h1v1h-1zM48 64h1v1h-1zM1 65h1v1h-1zM45 65h1v1h-1zM48 65h1v1h-1zM66 65h2v1h-2zM45 66h1v1h-1zM65 66h1v1h-1zM48 67h1v1h-1zM65 67h1v1h-1z"/>
<path fill="#931c5b" d="M11 0h1v1h-1zM16 0h3v1h-3zM21 0h1v1h-1zM26 0h3v1h-3zM32 0h2v1h-2zM35 0h2v1h-2zM38 0h1v1h-1zM47 0h1v1h-1zM5 1h1v1h-1zM10 1h1v1h-1zM17 1h2v1h-2zM32 1h3v1h-3zM36 1h4v1h-4zM41 1h1v1h-1zM44 1h4v1h-4zM66 1h1v1h-1zM5 2h1v1h-1zM10 2h1v1h-1zM42 2h1v1h-1zM48 2h2v1h-2zM65 2h1v1h-1zM5 3h1v1h-1zM11 3h4v1h-4zM20 3h1v1h-1zM22 3h2v1h-2zM5 4h3v1h-3zM9 4h2v1h-2zM17 4h3v1h-3zM29 4h1v1h-1zM49 4h1v1h-1zM63 4h1v1h-1zM1 5h4v1h-4zM49 6h1v1h-1zM65 7h1v1h-1zM56 8h1v1h-1zM65 8h1v1h-1zM4 9h1v1h-1zM2 10h1v1h-1zM4 10h1v1h-1zM0 11h1v1h-1zM3 11h1v1h-1zM42 11h1v1h-1zM48 11h1v1h-1zM3 12h1v1h-1zM41 12h1v1h-1zM3 13h1v1h-1zM41 13h1v1h-1zM48 13h1v1h-1zM3 14h1v1h-1zM0 16h1v1h-1zM40 16h1v1h-1zM0 17h2v1h-2zM4 17h1v1h-1zM40 17h1v1h-1zM0 18h2v1h-2zM4 18h1v1h-1zM40 18h1v1h-1zM57 18h1v1h-1zM4 19h1v1h-1zM40 19h1v1h-1zM57 19h1v1h-1zM3 20h1v1h-1zM40 20h2v1h-2zM0 21h1v1h-1zM3 22h1v1h-1zM3 23h1v1h-1zM40 24h1v1h-1zM40 25h1v1h-1zM0 26h1v1h-1zM40 26h1v1h-1zM57 26h1v1h-1zM0 27h1v1h-1zM40 27h1v1h-1zM66 27h1v1h-1zM0 28h1v1h-1zM57 28h1v1h-1zM4 29h1v1h-1zM57 29h1v1h-1zM64 29h1v1h-1zM58 30h2v1h-2zM57 31h1v1h-1zM0 32h2v1h-2zM57 32h1v1h-1zM0 33h2v1h-2zM40 33h1v1h-1zM57 33h1v1h-1zM1 34h1v1h-1zM57 34h1v1h-1zM0 35h1v1h-1zM40 35h1v1h-1zM57 35h1v1h-1zM0 36h2v1h-2zM40 36h1v1h-1zM1 37h1v1h-1zM0 38h2v1h-2zM1 39h1v1h-1zM58 39h2v1h-2zM16 40h5v1h-5zM24 40h4v1h-4zM33 40h1v1h-1zM35 40h1v1h-1zM37 40h1v1h-1zM57 40h1v1h-1zM1 41h1v1h-1zM12 41h2v1h-2zM20 41h1v1h-1zM58 41h2v1h-2zM63 41h1v1h-1zM66 41h1v1h-1zM2 42h1v1h-1zM11 42h1v1h-1zM56 42h1v1h-1zM65 42h1v1h-1zM63 43h1v1h-1zM66 43h1v1h-1zM1 44h1v1h-1zM60 44h1v1h-1zM64 44h2v1h-2zM67 44h1v1h-1zM1 45h1v1h-1zM63 45h2v1h-2zM1 46h1v1h-1zM61 46h6v1h-6zM0 47h2v1h-2zM61 47h6v1h-6zM2 48h1v1h-1zM11 48h1v1h-1zM13 48h1v1h-1zM52 48h1v1h-1zM2 49h1v1h-1zM4 49h1v1h-1zM6 49h1v1h-1zM62 49h2v1h-2zM66 49h1v1h-1zM48 52h1v1h-1zM8 56h1v1h-1zM42 56h1v1h-1zM18 57h2v1h-2zM26 57h1v1h-1zM28 57h2v1h-2zM31 57h5v1h-5zM40 57h1v1h-1zM65 57h1v1h-1zM30 58h1v1h-1zM39 58h1v1h-1zM41 58h1v1h-1zM30 59h1v1h-1zM39 59h1v1h-1zM41 59h1v1h-1zM44 60h1v1h-1zM66 60h2v1h-2zM46 61h2v1h-2zM66 61h2v1h-2zM46 62h2v1h-2zM49 62h1v1h-1zM4 63h1v1h-1zM41 63h1v1h-1zM43 63h1v1h-1zM45 63h3v1h-3zM49 63h1v1h-1zM29 64h1v1h-1zM44 64h4v1h-4zM2 65h1v1h-1zM7 65h2v1h-2zM42 65h1v1h-1zM44 65h1v1h-1zM46 65h2v1h-2zM57 65h1v1h-1zM1 66h1v1h-1zM27 66h1v1h-1zM41 66h1v1h-1zM43 66h1v1h-1zM46 66h2v1h-2zM49 66h1v1h-1zM60 66h2v1h-2zM44 67h1v1h-1zM60 67h2v1h-2z"/>
<path fill="#ae175b" d="M2 0h1v1h-1zM6 0h5v1h-5zM12 0h3v1h-3zM19 0h2v1h-2zM22 0h4v1h-4zM30 0h2v1h-2zM42 0h1v1h-1zM44 0h1v1h-1zM48 0h1v1h-1zM13 1h4v1h-4zM19 1h1v1h-1zM21 1h4v1h-4zM30 1h2v1h-2zM42 1h2v1h-2zM48 1h1v1h-1zM57 1h1v1h-1zM67 1h1v1h-1zM57 2h1v1h-1zM50 3h1v1h-1zM58 3h2v1h-2zM62 3h2v1h-2zM14 4h3v1h-3zM20 4h5v1h-5zM58 4h2v1h-2zM62 4h1v1h-1zM57 5h2v1h-2zM0 6h1v1h-1zM57 6h1v1h-1zM0 7h1v1h-1zM56 7h2v1h-2zM0 8h1v1h-1zM40 8h1v1h-1zM57 8h1v1h-1zM66 8h1v1h-1zM0 9h1v1h-1zM40 9h1v1h-1zM57 9h1v1h-1zM1 10h1v1h-1zM56 10h1v1h-1zM40 11h2v1h-2zM0 12h1v1h-1zM0 13h2v1h-2zM40 13h1v1h-1zM0 14h2v1h-2zM4 14h1v1h-1zM40 14h1v1h-1zM1 15h1v1h-1zM4 15h1v1h-1zM40 15h1v1h-1zM1 16h1v1h-1zM4 16h1v1h-1zM57 16h1v1h-1zM57 17h1v1h-1zM64 17h1v1h-1zM0 19h2v1h-2zM0 20h1v1h-1zM4 20h1v1h-1zM57 20h1v1h-1zM1 21h1v1h-1zM4 21h1v1h-1zM40 21h1v1h-1zM57 21h1v1h-1zM0 22h2v1h-2zM4 22h1v1h-1zM40 22h1v1h-1zM57 22h1v1h-1zM0 23h2v1h-2zM4 23h1v1h-1zM40 23h1v1h-1zM57 23h1v1h-1zM0 24h2v1h-2zM4 24h1v1h-1zM57 24h1v1h-1zM0 25h1v1h-1zM57 25h1v1h-1zM58 27h2v1h-2zM65 27h1v1h-1zM67 27h1v1h-1zM40 28h1v1h-1zM65 28h2v1h-2zM58 29h2v1h-2zM0 30h2v1h-2zM61 30h2v1h-2zM0 31h2v1h-2zM58 31h2v1h-2zM64 31h1v1h-1zM56 32h1v1h-1zM58 32h2v1h-2zM58 33h2v1h-2zM58 34h2v1h-2zM58 35h2v1h-2zM58 36h2v1h-2zM58 37h2v1h-2zM58 38h2v1h-2zM64 38h1v1h-1zM66 38h1v1h-1zM64 39h1v1h-1zM66 39h1v1h-1zM8 40h2v1h-2zM11 40h1v1h-1zM13 40h3v1h-3zM21 40h3v1h-3zM28 40h1v1h-1zM36 40h1v1h-1zM58 40h2v1h-2zM61 40h2v1h-2zM64 40h1v1h-1zM11 41h1v1h-1zM62 41h1v1h-1zM67 41h1v1h-1zM0 42h2v1h-2zM51 42h1v1h-1zM60 42h1v1h-1zM63 42h2v1h-2zM66 42h1v1h-1zM1 43h1v1h-1zM56 43h1v1h-1zM60 43h1v1h-1zM64 43h2v1h-2zM67 43h1v1h-1zM0 44h1v1h-1zM51 44h1v1h-1zM56 44h1v1h-1zM60 45h1v1h-1zM67 45h1v1h-1zM60 46h1v1h-1zM67 46h1v1h-1zM60 47h1v1h-1zM67 47h1v1h-1zM0 48h2v1h-2zM51 48h1v1h-1zM60 49h1v1h-1zM64 49h2v1h-2zM3 50h1v1h-1zM42 51h1v1h-1zM44 51h1v1h-1zM48 51h1v1h-1zM66 52h2v1h-2zM48 53h1v1h-1zM48 54h1v1h-1zM48 55h1v1h-1zM7 56h1v1h-1zM10 56h1v1h-1zM32 56h1v1h-1zM43 56h2v1h-2zM1 57h2v1h-2zM5 57h5v1h-5zM16 57h2v1h-2zM20 57h6v1h-6zM64 57h1v1h-1zM3 58h3v1h-3zM27 58h1v1h-1zM29 58h1v1h-1zM31 58h8v1h-8zM40 58h1v1h-1zM64 58h2v1h-2zM3 59h2v1h-2zM27 59h1v1h-1zM29 59h1v1h-1zM31 59h8v1h-8zM40 59h1v1h-1zM64 59h2v1h-2zM42 60h2v1h-2zM45 60h3v1h-3zM49 60h1v1h-1zM30 61h1v1h-1zM40 61h1v1h-1zM3 62h2v1h-2zM30 62h1v1h-1zM40 62h2v1h-2zM65 62h1v1h-1zM3 63h1v1h-1zM42 63h1v1h-1zM65 63h1v1h-1zM17 64h1v1h-1zM31 64h1v1h-1zM38 64h3v1h-3zM42 64h2v1h-2zM49 64h1v1h-1zM57 64h3v1h-3zM27 65h2v1h-2zM43 65h1v1h-1zM49 65h1v1h-1zM58 65h2v1h-2zM62 65h2v1h-2zM8 66h1v1h-1zM28 66h1v1h-1zM38 66h2v1h-2zM42 66h1v1h-1zM52 66h1v1h-1zM1 67h1v1h-1zM27 67h1v1h-1zM41 67h1v1h-1zM43 67h1v1h-1zM45 67h3v1h-3zM52 67h1v1h-1z"/>
<path fill="#cc1457" d="M1 0h1v1h-1zM4 0h2v1h-2zM29 0h1v1h-1zM41 0h1v1h-1zM43 0h1v1h-1zM49 0h1v1h-1zM0 1h1v1h-1zM11 1h2v1h-2zM20 1h1v1h-1zM29 1h1v1h-1zM49 1h1v1h-1zM0 2h1v1h-1zM40 2h1v1h-1zM58 2h2v1h-2zM63 2h1v1h-1zM40 3h1v1h-1zM61 3h1v1h-1zM64 3h1v1h-1zM0 4h1v1h-1zM11 4h3v1h-3zM40 4h1v1h-1zM61 4h1v1h-1zM64 4h1v1h-1zM0 5h1v1h-1zM40 5h1v1h-1zM59 5h1v1h-1zM64 5h1v1h-1zM66 5h1v1h-1zM40 6h1v1h-1zM65 6h2v1h-2zM40 7h1v1h-1zM66 7h1v1h-1zM58 8h2v1h-2zM61 8h2v1h-2zM64 8h1v1h-1zM67 8h1v1h-1zM65 9h1v1h-1zM0 10h1v1h-1zM40 10h1v1h-1zM57 10h1v1h-1zM64 10h1v1h-1zM1 11h1v1h-1zM4 11h1v1h-1zM57 11h1v1h-1zM1 12h1v1h-1zM4 12h1v1h-1zM57 12h1v1h-1zM4 13h1v1h-1zM57 13h1v1h-1zM57 14h1v1h-1zM57 15h1v1h-1zM58 16h2v1h-2zM66 17h1v1h-1zM58 18h2v1h-2zM64 18h1v1h-1zM66 18h1v1h-1zM58 19h2v1h-2zM64 19h1v1h-1zM1 20h1v1h-1zM58 24h2v1h-2zM58 25h2v1h-2zM58 26h2v1h-2zM65 26h2v1h-2zM62 27h3v1h-3zM58 28h2v1h-2zM67 28h1v1h-1zM0 29h2v1h-2zM61 29h3v1h-3zM66 29h1v1h-1zM56 30h1v1h-1zM60 30h1v1h-1zM63 30h4v1h-4zM56 31h1v1h-1zM61 31h2v1h-2zM65 31h2v1h-2zM61 32h2v1h-2zM64 32h3v1h-3zM64 33h3v1h-3zM64 34h3v1h-3zM64 35h1v1h-1zM66 35h1v1h-1zM61 36h6v1h-6zM61 37h2v1h-2zM64 37h3v1h-3zM61 38h3v1h-3zM65 38h1v1h-1zM61 39h3v1h-3zM65 39h1v1h-1zM2 40h6v1h-6zM10 40h1v1h-1zM41 40h1v1h-1zM60 40h1v1h-1zM63 40h1v1h-1zM66 40h1v1h-1zM0 41h1v1h-1zM40 41h1v1h-1zM60 41h2v1h-2zM64 41h2v1h-2zM67 42h1v1h-1zM0 43h1v1h-1zM51 43h2v1h-2zM52 44h1v1h-1zM50 45h2v1h-2zM56 45h1v1h-1zM56 46h1v1h-1zM56 47h1v1h-1zM53 48h3v1h-3zM0 49h2v1h-2zM52 49h1v1h-1zM67 49h1v1h-1zM45 50h1v1h-1zM43 51h1v1h-1zM45 51h1v1h-1zM65 51h3v1h-3zM43 52h2v1h-2zM49 52h1v1h-1zM66 53h2v1h-2zM66 54h2v1h-2zM66 55h2v1h-2zM30 56h2v1h-2zM45 56h4v1h-4zM10 57h6v1h-6zM2 58h1v1h-1zM8 58h1v1h-1zM16 58h1v1h-1zM18 58h2v1h-2zM24 58h3v1h-3zM28 58h1v1h-1zM2 59h1v1h-1zM5 59h1v1h-1zM8 59h1v1h-1zM16 59h1v1h-1zM18 59h2v1h-2zM24 59h3v1h-3zM28 59h1v1h-1zM30 60h1v1h-1zM40 60h2v1h-2zM64 60h2v1h-2zM3 61h2v1h-2zM8 61h1v1h-1zM29 61h1v1h-1zM31 61h2v1h-2zM36 61h4v1h-4zM41 61h1v1h-1zM64 61h2v1h-2zM8 62h1v1h-1zM27 62h1v1h-1zM29 62h1v1h-1zM31 62h2v1h-2zM36 62h4v1h-4zM64 62h1v1h-1zM2 63h1v1h-1zM27 63h1v1h-1zM29 63h2v1h-2zM36 63h1v1h-1zM38 63h3v1h-3zM64 63h1v1h-1zM3 64h3v1h-3zM8 64h1v1h-1zM10 64h1v1h-1zM18 64h2v1h-2zM27 64h1v1h-1zM30 64h1v1h-1zM32 64h6v1h-6zM41 64h1v1h-1zM61 64h3v1h-3zM6 65h1v1h-1zM9 65h1v1h-1zM26 65h1v1h-1zM30 65h5v1h-5zM36 65h4v1h-4zM41 65h1v1h-1zM51 65h1v1h-1zM61 65h1v1h-1zM5 66h3v1h-3zM17 66h2v1h-2zM26 66h1v1h-1zM29 66h9v1h-9zM40 66h1v1h-1zM51 66h1v1h-1zM53 66h3v1h-3zM64 66h1v1h-1zM8 67h1v1h-1zM28 67h1v1h-1zM42 67h1v1h-1zM49 67h1v1h-1zM51 67h1v1h-1zM53 67h3v1h-3z"/>
<path fill="#e5184e" d="M40 0h1v1h-1zM57 0h1v1h-1zM40 1h1v1h-1zM62 2h1v1h-1zM56 3h1v1h-1zM56 4h1v1h-1zM60 4h1v1h-1zM61 5h3v1h-3zM65 5h1v1h-1zM56 6h1v1h-1zM58 6h2v1h-2zM62 6h1v1h-1zM64 6h1v1h-1zM67 6h1v1h-1zM58 7h2v1h-2zM61 7h2v1h-2zM64 7h1v1h-1zM67 7h1v1h-1zM63 8h1v1h-1zM56 9h1v1h-1zM58 9h2v1h-2zM64 9h1v1h-1zM66 9h1v1h-1zM58 10h2v1h-2zM65 10h1v1h-1zM58 12h2v1h-2zM61 12h1v1h-1zM64 12h1v1h-1zM58 14h2v1h-2zM64 14h1v1h-1zM50 15h1v1h-1zM58 15h2v1h-2zM64 15h1v1h-1zM66 15h1v1h-1zM61 16h1v1h-1zM64 16h1v1h-1zM66 16h1v1h-1zM58 17h2v1h-2zM65 17h1v1h-1zM61 18h2v1h-2zM65 18h1v1h-1zM61 19h1v1h-1zM66 19h1v1h-1zM56 20h1v1h-1zM58 20h2v1h-2zM61 20h1v1h-1zM64 20h1v1h-1zM58 21h2v1h-2zM64 21h1v1h-1zM66 21h1v1h-1zM58 22h2v1h-2zM64 22h1v1h-1zM58 23h2v1h-2zM64 23h1v1h-1zM56 24h1v1h-1zM61 24h1v1h-1zM64 24h3v1h-3zM56 25h1v1h-1zM64 25h3v1h-3zM56 26h1v1h-1zM61 26h2v1h-2zM64 26h1v1h-1zM67 26h1v1h-1zM61 27h1v1h-1zM56 28h1v1h-1zM62 28h3v1h-3zM65 29h1v1h-1zM67 29h1v1h-1zM67 30h1v1h-1zM63 31h1v1h-1zM67 31h1v1h-1zM63 32h1v1h-1zM67 32h1v1h-1zM56 33h1v1h-1zM61 33h3v1h-3zM61 34h3v1h-3zM67 34h1v1h-1zM61 35h2v1h-2zM65 35h1v1h-1zM56 36h1v1h-1zM60 36h1v1h-1zM67 36h1v1h-1zM50 37h1v1h-1zM63 37h1v1h-1zM67 37h1v1h-1zM56 38h1v1h-1zM60 38h1v1h-1zM67 38h1v1h-1zM56 39h1v1h-1zM60 39h1v1h-1zM67 39h1v1h-1zM0 40h2v1h-2zM51 40h2v1h-2zM56 40h1v1h-1zM65 40h1v1h-1zM67 40h1v1h-1zM52 42h1v1h-1zM53 44h3v1h-3zM52 45h1v1h-1zM50 46h2v1h-2zM56 48h1v1h-1zM51 49h1v1h-1zM53 49h4v1h-4zM15 50h1v1h-1zM37 50h1v1h-1zM46 50h1v1h-1zM40 51h1v1h-1zM46 51h1v1h-1zM49 51h1v1h-1zM40 52h1v1h-1zM42 52h1v1h-1zM45 52h1v1h-1zM44 53h1v1h-1zM49 53h1v1h-1zM44 54h1v1h-1zM49 54h1v1h-1zM44 55h1v1h-1zM49 55h1v1h-1zM3 56h2v1h-2zM6 56h1v1h-1zM9 56h1v1h-1zM20 56h1v1h-1zM24 56h3v1h-3zM28 56h1v1h-1zM33 56h1v1h-1zM36 56h1v1h-1zM38 56h3v1h-3zM49 56h1v1h-1zM57 56h3v1h-3zM61 56h2v1h-2zM65 56h1v1h-1zM0 57h1v1h-1zM56 57h1v1h-1zM6 58h2v1h-2zM9 58h2v1h-2zM12 58h1v1h-1zM14 58h2v1h-2zM17 58h1v1h-1zM20 58h4v1h-4zM6 59h2v1h-2zM9 59h2v1h-2zM12 59h1v1h-1zM14 59h2v1h-2zM17 59h1v1h-1zM20 59h4v1h-4zM4 60h1v1h-1zM36 60h1v1h-1zM38 60h2v1h-2zM5 61h1v1h-1zM7 61h1v1h-1zM12 61h1v1h-1zM16 61h1v1h-1zM18 61h3v1h-3zM24 61h1v1h-1zM26 61h2v1h-2zM33 61h3v1h-3zM56 61h1v1h-1zM2 62h1v1h-1zM5 62h3v1h-3zM18 62h1v1h-1zM26 62h1v1h-1zM28 62h1v1h-1zM33 62h3v1h-3zM56 62h1v1h-1zM5 63h1v1h-1zM8 63h1v1h-1zM28 63h1v1h-1zM31 63h4v1h-4zM37 63h1v1h-1zM6 64h2v1h-2zM9 64h1v1h-1zM12 64h1v1h-1zM14 64h3v1h-3zM20 64h7v1h-7zM28 64h1v1h-1zM60 64h1v1h-1zM65 64h3v1h-3zM5 65h1v1h-1zM10 65h1v1h-1zM17 65h2v1h-2zM24 65h2v1h-2zM29 65h1v1h-1zM35 65h1v1h-1zM40 65h1v1h-1zM56 65h1v1h-1zM60 65h1v1h-1zM64 65h1v1h-1zM9 66h1v1h-1zM15 66h2v1h-2zM19 66h1v1h-1zM21 66h1v1h-1zM24 66h2v1h-2zM6 67h2v1h-2zM26 67h1v1h-1zM29 67h4v1h-4zM34 67h1v1h-1zM36 67h5v1h-5zM64 67h1v1h-1z"/>
<path fill="#f82d42" d="M58 0h2v1h-2zM64 0h3v1h-3zM58 1h2v1h-2zM62 1h3v1h-3zM56 2h1v1h-1zM61 2h1v1h-1zM64 2h1v1h-1zM60 3h1v1h-1zM51 4h1v1h-1zM56 5h1v1h-1zM60 5h1v1h-1zM67 5h1v1h-1zM61 6h1v1h-1zM63 6h1v1h-1zM51 7h1v1h-1zM63 7h1v1h-1zM51 8h1v1h-1zM61 9h3v1h-3zM67 9h1v1h-1zM61 10h3v1h-3zM66 10h1v1h-1zM58 11h2v1h-2zM64 11h1v1h-1zM62 12h1v1h-1zM65 12h2v1h-2zM56 13h1v1h-1zM58 13h2v1h-2zM61 13h1v1h-1zM64 13h3v1h-3zM61 14h1v1h-1zM65 14h2v1h-2zM61 15h1v1h-1zM65 15h1v1h-1zM56 16h1v1h-1zM62 16h2v1h-2zM65 16h1v1h-1zM56 17h1v1h-1zM61 17h3v1h-3zM67 17h1v1h-1zM56 18h1v1h-1zM63 18h1v1h-1zM67 18h1v1h-1zM56 19h1v1h-1zM62 19h2v1h-2zM65 19h1v1h-1zM67 19h1v1h-1zM65 20h2v1h-2zM61 21h1v1h-1zM65 21h1v1h-1zM65 22h2v1h-2zM66 23h1v1h-1zM62 24h2v1h-2zM61 25h3v1h-3zM63 26h1v1h-1zM56 27h1v1h-1zM60 27h1v1h-1zM56 29h1v1h-1zM60 29h1v1h-1zM51 30h1v1h-1zM51 31h1v1h-1zM60 31h1v1h-1zM51 32h1v1h-1zM60 32h1v1h-1zM60 33h1v1h-1zM67 33h1v1h-1zM56 34h1v1h-1zM60 34h1v1h-1zM56 35h1v1h-1zM63 35h1v1h-1zM67 35h1v1h-1zM50 36h1v1h-1zM56 37h1v1h-1zM60 37h1v1h-1zM50 38h1v1h-1zM50 39h1v1h-1zM53 40h3v1h-3zM52 41h1v1h-1zM56 41h1v1h-1zM50 42h1v1h-1zM53 42h3v1h-3zM53 43h3v1h-3zM53 45h3v1h-3zM52 46h1v1h-1zM50 47h3v1h-3zM50 48h1v1h-1zM36 50h1v1h-1zM38 50h2v1h-2zM42 50h1v1h-1zM47 50h2v1h-2zM4 51h1v1h-1zM7 51h2v1h-2zM30 51h3v1h-3zM47 51h1v1h-1zM64 51h1v1h-1zM41 52h1v1h-1zM46 52h2v1h-2zM64 52h2v1h-2zM40 53h1v1h-1zM42 53h2v1h-2zM45 53h1v1h-1zM64 53h1v1h-1zM40 54h1v1h-1zM42 54h2v1h-2zM45 54h1v1h-1zM64 54h1v1h-1zM40 55h1v1h-1zM42 55h2v1h-2zM45 55h1v1h-1zM64 55h1v1h-1zM2 56h1v1h-1zM5 56h1v1h-1zM13 56h1v1h-1zM16 56h4v1h-4zM27 56h1v1h-1zM29 56h1v1h-1zM34 56h2v1h-2zM37 56h1v1h-1zM41 56h1v1h-1zM63 56h2v1h-2zM66 56h2v1h-2zM0 58h2v1h-2zM11 58h1v1h-1zM13 58h1v1h-1zM56 58h1v1h-1zM0 59h2v1h-2zM11 59h1v1h-1zM13 59h1v1h-1zM56 59h1v1h-1zM3 60h1v1h-1zM5 60h1v1h-1zM27 60h1v1h-1zM29 60h1v1h-1zM31 60h4v1h-4zM37 60h1v1h-1zM2 61h1v1h-1zM6 61h1v1h-1zM9 61h2v1h-2zM13 61h3v1h-3zM17 61h1v1h-1zM21 61h1v1h-1zM25 61h1v1h-1zM1 62h1v1h-1zM9 62h2v1h-2zM12 62h1v1h-1zM16 62h2v1h-2zM19 62h1v1h-1zM24 62h2v1h-2zM1 63h1v1h-1zM6 63h2v1h-2zM9 63h2v1h-2zM16 63h4v1h-4zM24 63h3v1h-3zM35 63h1v1h-1zM56 63h1v1h-1zM0 64h3v1h-3zM11 64h1v1h-1zM13 64h1v1h-1zM51 64h6v1h-6zM0 65h1v1h-1zM12 65h5v1h-5zM19 65h4v1h-4zM52 65h1v1h-1zM0 66h1v1h-1zM10 66h1v1h-1zM12 66h3v1h-3zM20 66h1v1h-1zM22 66h2v1h-2zM56 66h1v1h-1zM5 67h1v1h-1zM9 67h1v1h-1zM17 67h3v1h-3zM33 67h1v1h-1zM35 67h1v1h-1zM56 67h1v1h-1z"/>
<path fill="#fb4a3a" d="M62 0h2v1h-2zM67 0h1v1h-1zM50 1h1v1h-1zM56 1h1v1h-1zM61 1h1v1h-1zM60 2h1v1h-1zM51 3h1v1h-1zM50 4h1v1h-1zM52 4h1v1h-1zM50 6h1v1h-1zM60 6h1v1h-1zM60 7h1v1h-1zM60 8h1v1h-1zM51 10h1v1h-1zM67 10h1v1h-1zM61 11h1v1h-1zM65 11h2v1h-2zM56 12h1v1h-1zM60 12h1v1h-1zM63 12h1v1h-1zM67 12h1v1h-1zM62 13h2v1h-2zM67 13h1v1h-1zM56 14h1v1h-1zM62 14h2v1h-2zM67 14h1v1h-1zM56 15h1v1h-1zM62 15h2v1h-2zM67 15h1v1h-1zM60 16h1v1h-1zM67 16h1v1h-1zM60 17h1v1h-1zM60 18h1v1h-1zM60 19h1v1h-1zM62 20h2v1h-2zM67 20h1v1h-1zM56 21h1v1h-1zM62 21h2v1h-2zM67 21h1v1h-1zM56 22h1v1h-1zM61 22h3v1h-3zM67 22h1v1h-1zM56 23h1v1h-1zM61 23h3v1h-3zM65 23h1v1h-1zM67 23h1v1h-1zM67 24h1v1h-1zM67 25h1v1h-1zM50 27h1v1h-1zM50 28h1v1h-1zM61 28h1v1h-1zM52 30h1v1h-1zM50 32h1v1h-1zM50 33h1v1h-1zM50 34h1v1h-1zM60 35h1v1h-1zM51 36h1v1h-1zM51 38h1v1h-1zM51 39h1v1h-1zM51 41h1v1h-1zM53 41h3v1h-3zM50 44h1v1h-1zM53 46h3v1h-3zM53 47h3v1h-3zM1 50h1v1h-1zM4 50h1v1h-1zM6 50h1v1h-1zM27 50h2v1h-2zM32 50h3v1h-3zM44 50h1v1h-1zM65 50h1v1h-1zM3 51h1v1h-1zM10 51h1v1h-1zM36 51h1v1h-1zM38 51h2v1h-2zM41 51h1v1h-1zM4 52h1v1h-1zM30 52h1v1h-1zM41 53h1v1h-1zM46 53h2v1h-2zM65 53h1v1h-1zM41 54h1v1h-1zM46 54h2v1h-2zM65 54h1v1h-1zM41 55h1v1h-1zM46 55h2v1h-2zM65 55h1v1h-1zM1 56h1v1h-1zM12 56h1v1h-1zM14 56h2v1h-2zM21 56h3v1h-3zM60 56h1v1h-1zM2 60h1v1h-1zM6 60h3v1h-3zM12 60h1v1h-1zM16 60h4v1h-4zM35 60h1v1h-1zM56 60h1v1h-1zM1 61h1v1h-1zM11 61h1v1h-1zM22 61h2v1h-2zM28 61h1v1h-1zM0 62h1v1h-1zM13 62h3v1h-3zM20 62h4v1h-4zM0 63h1v1h-1zM12 63h4v1h-4zM20 63h4v1h-4zM11 65h1v1h-1zM23 65h1v1h-1zM50 65h1v1h-1zM53 65h3v1h-3zM11 66h1v1h-1zM0 67h1v1h-1zM10 67h1v1h-1zM12 67h5v1h-5zM20 67h6v1h-6z"/>
<path fill="#fc6a44" d="M56 0h1v1h-1zM61 0h1v1h-1zM60 1h1v1h-1zM50 2h1v1h-1zM52 3h1v1h-1zM53 4h3v1h-3zM50 5h1v1h-1zM51 6h1v1h-1zM50 7h1v1h-1zM50 8h1v1h-1zM50 9h2v1h-2zM60 9h1v1h-1zM50 10h1v1h-1zM60 10h1v1h-1zM56 11h1v1h-1zM62 11h2v1h-2zM67 11h1v1h-1zM60 13h1v1h-1zM60 14h1v1h-1zM60 15h1v1h-1zM50 17h1v1h-1zM50 18h1v1h-1zM60 20h1v1h-1zM60 21h1v1h-1zM60 22h1v1h-1zM60 23h1v1h-1zM50 24h2v1h-2zM60 24h1v1h-1zM50 25h1v1h-1zM60 25h1v1h-1zM50 26h1v1h-1zM60 26h1v1h-1zM51 27h1v1h-1zM60 28h1v1h-1zM51 29h2v1h-2zM50 30h1v1h-1zM53 30h3v1h-3zM50 31h1v1h-1zM51 33h1v1h-1zM50 35h1v1h-1zM52 36h1v1h-1zM51 37h2v1h-2zM52 38h1v1h-1zM52 39h1v1h-1zM50 41h1v1h-1zM50 43h1v1h-1zM50 49h1v1h-1zM2 50h1v1h-1zM5 50h1v1h-1zM7 50h4v1h-4zM17 50h2v1h-2zM24 50h3v1h-3zM30 50h2v1h-2zM35 50h1v1h-1zM41 50h1v1h-1zM43 50h1v1h-1zM64 50h1v1h-1zM66 50h1v1h-1zM6 51h1v1h-1zM9 51h1v1h-1zM24 51h1v1h-1zM27 51h1v1h-1zM29 51h1v1h-1zM33 51h1v1h-1zM37 51h1v1h-1zM3 52h1v1h-1zM29 52h1v1h-1zM36 52h4v1h-4zM4 53h1v1h-1zM30 53h1v1h-1zM4 54h1v1h-1zM30 54h1v1h-1zM4 55h1v1h-1zM30 55h1v1h-1zM0 56h1v1h-1zM11 56h1v1h-1zM52 56h1v1h-1zM50 57h1v1h-1zM50 59h1v1h-1zM1 60h1v1h-1zM9 60h2v1h-2zM13 60h3v1h-3zM20 60h7v1h-7zM28 60h1v1h-1zM0 61h1v1h-1zM11 62h1v1h-1zM11 63h1v1h-1zM50 64h1v1h-1zM50 66h1v1h-1zM11 67h1v1h-1z"/>
<path fill="#fd8052" d="M60 0h1v1h-1zM51 2h1v1h-1zM53 3h3v1h-3zM51 5h2v1h-2zM50 11h1v1h-1zM60 11h1v1h-1zM50 12h1v1h-1zM50 13h1v1h-1zM50 14h1v1h-1zM50 16h2v1h-2zM51 18h1v1h-1zM50 19h2v1h-2zM50 20h2v1h-2zM50 21h1v1h-1zM50 22h1v1h-1zM50 23h1v1h-1zM51 25h1v1h-1zM51 26h1v1h-1zM52 27h1v1h-1zM51 28h1v1h-1zM50 29h1v1h-1zM52 31h1v1h-1zM51 34h1v1h-1zM51 35h1v1h-1zM53 36h3v1h-3zM53 37h3v1h-3zM53 38h3v1h-3zM53 39h3v1h-3zM50 40h1v1h-1zM11 50h4v1h-4zM16 50h1v1h-1zM19 50h5v1h-5zM29 50h1v1h-1zM40 50h1v1h-1zM49 50h1v1h-1zM57 50h3v1h-3zM62 50h2v1h-2zM67 50h1v1h-1zM2 51h1v1h-1zM5 51h1v1h-1zM16 51h1v1h-1zM18 51h3v1h-3zM25 51h2v1h-2zM28 51h1v1h-1zM34 51h2v1h-2zM5 52h1v1h-1zM27 52h1v1h-1zM31 52h1v1h-1zM56 52h1v1h-1zM3 53h1v1h-1zM36 53h4v1h-4zM56 53h1v1h-1zM3 54h1v1h-1zM36 54h4v1h-4zM56 54h1v1h-1zM3 55h1v1h-1zM36 55h4v1h-4zM56 55h1v1h-1zM53 56h3v1h-3zM50 58h1v1h-1zM0 60h1v1h-1zM11 60h1v1h-1zM50 62h1v1h-1zM50 63h1v1h-1zM50 67h1v1h-1z"/>
<path fill="#fd9a6c" d="M51 1h1v1h-1zM52 2h1v1h-1zM53 5h3v1h-3zM52 8h1v1h-1zM51 12h1v1h-1zM51 13h1v1h-1zM52 16h1v1h-1zM51 17h1v1h-1zM52 18h1v1h-1zM52 19h1v1h-1zM53 27h3v1h-3zM53 29h3v1h-3zM53 31h3v1h-3zM52 32h4v1h-4zM52 33h1v1h-1zM52 34h1v1h-1zM52 35h1v1h-1zM60 50h2v1h-2zM1 51h1v1h-1zM12 51h2v1h-2zM17 51h1v1h-1zM2 52h1v1h-1zM8 52h1v1h-1zM16 52h1v1h-1zM18 52h2v1h-2zM32 52h4v1h-4zM5 53h1v1h-1zM27 53h1v1h-1zM29 53h1v1h-1zM31 53h2v1h-2zM5 54h1v1h-1zM27 54h1v1h-1zM29 54h1v1h-1zM31 54h2v1h-2zM5 55h1v1h-1zM27 55h1v1h-1zM29 55h1v1h-1zM31 55h2v1h-2zM50 60h1v1h-1zM50 61h1v1h-1z"/>
<path fill="#fdb08a" d="M51 0h1v1h-1zM52 1h1v1h-1zM53 2h3v1h-3zM52 6h1v1h-1zM52 7h1v1h-1zM53 8h3v1h-3zM52 9h1v1h-1zM52 10h1v1h-1zM51 11h1v1h-1zM52 12h1v1h-1zM51 14h1v1h-1zM51 15h1v1h-1zM53 16h3v1h-3zM52 17h1v1h-1zM53 18h3v1h-3zM53 19h3v1h-3zM51 21h2v1h-2zM51 22h1v1h-1zM51 23h1v1h-1zM52 24h1v1h-1zM52 25h1v1h-1zM52 26h1v1h-1zM52 28h1v1h-1zM53 33h3v1h-3zM53 34h3v1h-3zM53 35h3v1h-3zM56 50h1v1h-1zM0 51h1v1h-1zM11 51h1v1h-1zM14 51h2v1h-2zM21 51h3v1h-3zM50 51h1v1h-1zM1 52h1v1h-1zM6 52h2v1h-2zM9 52h2v1h-2zM12 52h1v1h-1zM17 52h1v1h-1zM21 52h1v1h-1zM24 52h3v1h-3zM28 52h1v1h-1zM2 53h1v1h-1zM8 53h1v1h-1zM16 53h1v1h-1zM18 53h2v1h-2zM33 53h3v1h-3zM2 54h1v1h-1zM8 54h1v1h-1zM16 54h1v1h-1zM18 54h2v1h-2zM33 54h3v1h-3zM2 55h1v1h-1zM8 55h1v1h-1zM16 55h1v1h-1zM18 55h2v1h-2zM33 55h3v1h-3zM50 56h1v1h-1z"/>
<path fill="#fec8a8" d="M52 0h1v1h-1zM53 1h3v1h-3zM53 6h3v1h-3zM53 7h3v1h-3zM52 11h1v1h-1zM53 12h3v1h-3zM52 13h1v1h-1zM52 14h1v1h-1zM52 15h1v1h-1zM53 17h3v1h-3zM52 20h1v1h-1zM52 22h1v1h-1zM52 23h1v1h-1zM53 26h3v1h-3zM53 28h3v1h-3zM51 50h1v1h-1zM0 52h1v1h-1zM11 52h1v1h-1zM13 52h3v1h-3zM20 52h1v1h-1zM22 52h2v1h-2zM50 52h1v1h-1zM1 53h1v1h-1zM6 53h2v1h-2zM12 53h1v1h-1zM17 53h1v1h-1zM26 53h1v1h-1zM28 53h1v1h-1zM1 54h1v1h-1zM6 54h2v1h-2zM12 54h1v1h-1zM17 54h1v1h-1zM26 54h1v1h-1zM28 54h1v1h-1zM1 55h1v1h-1zM6 55h2v1h-2zM12 55h1v1h-1zM17 55h1v1h-1zM26 55h1v1h-1zM28 55h1v1h-1z"/>
<path fill="#fedac4" d="M53 0h3v1h-3zM53 9h3v1h-3zM53 10h3v1h-3zM53 13h3v1h-3zM53 14h3v1h-3zM53 15h3v1h-3zM53 20h3v1h-3zM53 21h3v1h-3zM53 22h3v1h-3zM53 23h3v1h-3zM53 24h3v1h-3zM53 25h3v1h-3zM52 50h1v1h-1zM0 53h1v1h-1zM9 53h2v1h-2zM13 53h3v1h-3zM20 53h6v1h-6zM0 54h1v1h-1zM9 54h2v1h-2zM13 54h3v1h-3zM20 54h6v1h-6zM0 55h1v1h-1zM9 55h2v1h-2zM13 55h3v1h-3zM20 55h6v1h-6z"/>
<path fill="#feeadc" d="M53 11h3v1h-3zM53 50h3v1h-3zM11 53h1v1h-1zM50 53h1v1h-1zM11 54h1v1h-1zM50 54h1v1h-1zM11 55h1v1h-1zM50 55h1v1h-1z"/>
</g>
<path fill="none" stroke="#333" stroke-width="1.5" d="M657.7 247.6V55.0H1749.6V96.8M478.2 446.7V247.6H837.2V294.2M523.4 347.6V294.2H1151.1V308.4M502.3 446.7V347.6H544.5V376.0M526.4 446.7V376.0H562.6V388.8M550.5 446.7V388.8H574.6V446.7M818.1 364.1V308.4H1484.0V315.6M625.8 378.7V364.1H1010.4V367.8M598.7 446.7V378.7H653.0V388.8M622.8 446.7V388.8H683.1V391.7M659.0 418.2V391.7H707.2V401.4M646.9 446.7V418.2H671.0V446.7M695.1 446.7V401.4H719.2V446.7M843.1 389.7V367.8H1177.7V381.4M764.4 416.2V389.7H921.9V399.7M743.3 446.7V416.2H785.5V421.8M767.4 446.7V421.8H803.6V431.1M791.6 446.7V431.1H815.7V446.7M839.8 446.7V399.7H1004.0V406.7M933.2 416.6V406.7H1074.8V413.5M885.0 423.3V416.6H981.4V418.7M863.9 446.7V423.3H906.0V426.8M888.0 446.7V426.8H924.1V429.5M912.1 446.7V429.5H936.2V446.7M960.3 446.7V418.7H1002.5V432.8M984.4 446.7V432.8H1020.5V439.6M1008.5 446.7V439.6H1032.6V446.7M1056.7 446.7V413.5H1092.9V416.6M1080.8 446.7V416.6H1104.9V446.7M1141.1 410.0V381.4H1214.3V387.2M1129.0 446.7V410.0H1153.1V446.7M1177.2 446.7V387.2H1251.4V398.6M1213.4 409.0V398.6H1289.5V404.8M1201.3 446.7V409.0H1225.4V446.7M1249.5 446.7V404.8H1329.4V408.8M1291.7 421.8V408.8H1367.0V411.5M1273.6 446.7V421.8H1309.8V424.9M1297.7 446.7V424.9H1321.8V446.7M1345.9 446.7V411.5H1388.1V415.6M1370.0 446.7V415.6H1406.2V435.3M1394.2 446.7V435.3H1418.3V446.7M1442.4 446.7V315.6H1525.6V360.1M1466.5 446.7V360.1H1584.7V372.5M1522.2 381.8V372.5H1647.2V379.1M1490.6 446.7V381.8H1553.8V401.5M1526.7 419.1V401.5H1581.0V419.1M1514.7 446.7V419.1H1538.8V446.7M1562.9 446.7V419.1H1599.0V432.5M1587.0 446.7V432.5H1611.1V446.7M1635.2 446.7V379.1H1659.3V446.7M1683.4 446.7V96.8H1815.8V161.4M1730.1 308.3V161.4H1901.5V228.8M1707.5 446.7V308.3H1752.7V383.9M1731.6 446.7V383.9H1773.8V441.6M1755.7 446.7V441.6H1791.9V443.3M1779.8 446.7V443.3H1803.9V446.7M1828.0 446.7V228.8H1974.9V288.8M1907.9 335.1V288.8H2041.9V318.5M1870.2 381.8V335.1H1945.5V359.5M1852.1 446.7V381.8H1888.3V438.9M1876.2 446.7V438.9H1900.3V446.7M1924.4 446.7V359.5H1966.6V398.7M1948.5 446.7V398.7H1984.7V415.1M1972.6 446.7V415.1H1996.8V446.7M2020.9 446.7V318.5H2063.0V356.1M2045.0 446.7V356.1H2081.1V387.1M2069.1 446.7V387.1H2093.2V446.7"/>
<path fill="none" stroke="#333" stroke-width="1.5" d="M258.7 644.5H68.1V1740.3H109.5M458.3 464.3H258.7V824.6H304.8M357.7 509.7H304.8V1139.6H318.9M458.3 488.5H357.7V530.8H385.8M458.3 512.7H385.8V549.0H398.4M458.3 536.9H398.4V561.1H458.3M374.0 805.5H318.9V1473.7H326.0M388.4 612.5H374.0V998.4H377.7M458.3 585.3H388.4V639.7H398.4M458.3 609.4H398.4V669.9H401.3M427.5 645.7H401.3V694.1H410.9M458.3 633.6H427.5V657.8H458.3M458.3 682.0H410.9V706.2H458.3M399.3 830.6H377.7V1166.3H391.1M425.6 751.6H399.3V909.6H409.2M458.3 730.4H425.6V772.7H431.1M458.3 754.6H431.1V790.9H440.3M458.3 778.8H440.3V803.0H458.3M458.3 827.2H409.2V992.0H416.2M426.0 920.9H416.2V1063.0H422.9M432.6 872.5H426.0V969.3H428.0M458.3 851.4H432.6V893.7H436.0M458.3 875.5H436.0V911.8H438.7M458.3 899.7H438.7V923.9H458.3M458.3 948.1H428.0V990.5H442.0M458.3 972.3H442.0V1008.6H448.7M458.3 996.5H448.7V1020.7H458.3M458.3 1044.9H422.9V1081.2H426.0M458.3 1069.1H426.0V1093.3H458.3M419.4 1129.6H391.1V1203.1H396.9M458.3 1117.5H419.4V1141.6H458.3M458.3 1165.8H396.9V1240.3H408.1M418.4 1202.1H408.1V1278.5H414.3M458.3 1190.0H418.4V1214.2H458.3M458.3 1238.4H414.3V1318.5H418.2M431.1 1280.7H418.2V1356.3H420.9M458.3 1262.6H431.1V1298.9H434.2M458.3 1286.8H434.2V1311.0H458.3M458.3 1335.2H420.9V1377.5H425.0M458.3 1359.4H425.0V1395.7H444.5M458.3 1383.6H444.5V1407.8H458.3M458.3 1431.9H326.0V1515.5H370.0M458.3 1456.1H370.0V1574.8H382.3M391.5 1512.1H382.3V1637.6H388.8M458.3 1480.3H391.5V1543.8H411.0M428.4 1516.6H411.0V1571.0H428.4M458.3 1504.5H428.4V1528.7H458.3M458.3 1552.9H428.4V1589.2H441.7M458.3 1577.1H441.7V1601.3H458.3M458.3 1625.5H388.8V1649.7H458.3M458.3 1673.9H109.5V1806.7H173.4M318.8 1720.7H173.4V1892.7H240.1M458.3 1698.0H318.8V1743.4H393.6M458.3 1722.2H393.6V1764.6H450.7M458.3 1746.4H450.7V1782.7H452.4M458.3 1770.6H452.4V1794.8H458.3M458.3 1819.0H240.1V1966.4H299.5M345.3 1899.1H299.5V2033.7H328.9M391.5 1861.3H345.3V1936.9H369.4M458.3 1843.2H391.5V1879.5H448.0M458.3 1867.4H448.0V1891.6H458.3M458.3 1915.8H369.4V1958.1H408.2M458.3 1940.0H408.2V1976.2H424.5M458.3 1964.1H424.5V1988.3H458.3M458.3 2012.5H328.9V2054.9H366.1M458.3 2036.7H366.1V2073.0H396.8M458.3 2060.9H396.8V2085.1H458.3"/>
<line x1="2105.3" y1="464.3" x2="2123.5" y2="464.3" stroke="#262626" stroke-width="2.7"/>
<text x="2135.5" y="479.8" font-size="35.2">%K14</text>
<text transform="translate(490.8,2132.1) rotate(-90)" text-anchor="end" font-size="35.2">%K14</text>
<line x1="2105.3" y1="512.7" x2="2123.5" y2="512.7" stroke="#262626" stroke-width="2.7"/>
<text x="2135.5" y="528.2" font-size="35.2">%B17</text>
<text transform="translate(539.0,2132.1) rotate(-90)" text-anchor="end" font-size="35.2">%B17</text>
<line x1="2105.3" y1="561.1" x2="2123.5" y2="561.1" stroke="#262626" stroke-width="2.7"/>
<text x="2135.5" y="576.6" font-size="35.2">%B15</text>
<text transform="translate(587.1,2132.1) rotate(-90)" text-anchor="end" font-size="35.2">%B15</text>
<line x1="2105.3" y1="609.4" x2="2123.5" y2="609.4" stroke="#262626" stroke-width="2.7"/>
<text x="2135.5" y="624.9" font-size="35.2">%UB6</text>
<text transform="translate(635.3,2132.1) rotate(-90)" text-anchor="end" font-size="35.2">%UB6</text>
<line x1="2105.3" y1="657.8" x2="2123.5" y2="657.8" stroke="#262626" stroke-width="2.7"/>
<text x="2135.5" y="673.3" font-size="35.2">%UB3</text>
<text transform="translate(683.5,2132.1) rotate(-90)" text-anchor="end" font-size="35.2">%UB3</text>
<line x1="2105.3" y1="706.2" x2="2123.5" y2="706.2" stroke="#262626" stroke-width="2.7"/>
<text x="2135.5" y="721.7" font-size="35.2">%UB17</text>
<text transform="translate(731.7,2132.1) rotate(-90)" text-anchor="end" font-size="35.2">%UB17</text>
<line x1="2105.3" y1="754.6" x2="2123.5" y2="754.6" stroke="#262626" stroke-width="2.7"/>
<text x="2135.5" y="770.1" font-size="35.2">%U19</text>
<text transform="translate(779.9,2132.1) rotate(-90)" text-anchor="end" font-size="35.2">%U19</text>
<line x1="2105.3" y1="803.0" x2="2123.5" y2="803.0" stroke="#262626" stroke-width="2.7"/>
<text x="2135.5" y="818.5" font-size="35.2">%U20</text>
<text transform="translate(828.1,2132.1) rotate(-90)" text-anchor="end" font-size="35.2">%U20</text>
<line x1="2105.3" y1="851.4" x2="2123.5" y2="851.4" stroke="#262626" stroke-width="2.7"/>
<text x="2135.5" y="866.9" font-size="35.2">%UB7</text>
<text transform="translate(876.3,2132.1) rotate(-90)" text-anchor="end" font-size="35.2">%UB7</text>
<line x1="2105.3" y1="899.7" x2="2123.5" y2="899.7" stroke="#262626" stroke-width="2.7"/>
<text x="2135.5" y="915.2" font-size="35.2">%B6</text>
<text transform="translate(924.5,2132.1) rotate(-90)" text-anchor="end" font-size="35.2">%B6</text>
<line x1="2105.3" y1="948.1" x2="2123.5" y2="948.1" stroke="#262626" stroke-width="2.7"/>
<text x="2135.5" y="963.6" font-size="35.2">%U5</text>
<text transform="translate(972.7,2132.1) rotate(-90)" text-anchor="end" font-size="35.2">%U5</text>
<line x1="2105.3" y1="996.5" x2="2123.5" y2="996.5" stroke="#262626" stroke-width="2.7"/>
<text x="2135.5" y="1012.0" font-size="35.2">%K13</text>
<text transform="translate(1020.9,2132.1) rotate(-90)" text-anchor="end" font-size="35.2">%K13</text>
<line x1="2105.3" y1="1044.9" x2="2123.5" y2="1044.9" stroke="#262626" stroke-width="2.7"/>
<text x="2135.5" y="1060.4" font-size="35.2">%UB16</text>
<text transform="translate(1069.1,2132.1) rotate(-90)" text-anchor="end" font-size="35.2">%UB16</text>
<line x1="2105.3" y1="1093.3" x2="2123.5" y2="1093.3" stroke="#262626" stroke-width="2.7"/>
<text x="2135.5" y="1108.8" font-size="35.2">%UB1</text>
<text transform="translate(1117.3,2132.1) rotate(-90)" text-anchor="end" font-size="35.2">%UB1</text>
<line x1="2105.3" y1="1141.6" x2="2123.5" y2="1141.6" stroke="#262626" stroke-width="2.7"/>
<text x="2135.5" y="1157.1" font-size="35.2">%U6</text>
<text transform="translate(1165.5,2132.1) rotate(-90)" text-anchor="end" font-size="35.2">%U6</text>
<line x1="2105.3" y1="1190.0" x2="2123.5" y2="1190.0" stroke="#262626" stroke-width="2.7"/>
<text x="2135.5" y="1205.5" font-size="35.2">%UB11</text>
<text transform="translate(1213.7,2132.1) rotate(-90)" text-anchor="end" font-size="35.2">%UB11</text>
<line x1="2105.3" y1="1238.4" x2="2123.5" y2="1238.4" stroke="#262626" stroke-width="2.7"/>
<text x="2135.5" y="1253.9" font-size="35.2">%B4</text>
<text transform="translate(1261.9,2132.1) rotate(-90)" text-anchor="end" font-size="35.2">%B4</text>
<line x1="2105.3" y1="1286.8" x2="2123.5" y2="1286.8" stroke="#262626" stroke-width="2.7"/>
<text x="2135.5" y="1302.3" font-size="35.2">%K11</text>
<text transform="translate(1310.1,2132.1) rotate(-90)" text-anchor="end" font-size="35.2">%K11</text>
<line x1="2105.3" y1="1335.2" x2="2123.5" y2="1335.2" stroke="#262626" stroke-width="2.7"/>
<text x="2135.5" y="1350.7" font-size="35.2">%B16</text>
<text transform="translate(1358.3,2132.1) rotate(-90)" text-anchor="end" font-size="35.2">%B16</text>
<line x1="2105.3" y1="1383.6" x2="2123.5" y2="1383.6" stroke="#262626" stroke-width="2.7"/>
<text x="2135.5" y="1399.1" font-size="35.2">%B11</text>
<text transform="translate(1406.4,2132.1) rotate(-90)" text-anchor="end" font-size="35.2">%B11</text>
<line x1="2105.3" y1="1431.9" x2="2123.5" y2="1431.9" stroke="#262626" stroke-width="2.7"/>
<text x="2135.5" y="1447.4" font-size="35.2">%U18</text>
<text transform="translate(1454.6,2132.1) rotate(-90)" text-anchor="end" font-size="35.2">%U18</text>
<line x1="2105.3" y1="1480.3" x2="2123.5" y2="1480.3" stroke="#262626" stroke-width="2.7"/>
<text x="2135.5" y="1495.8" font-size="35.2">%B3</text>
<text transform="translate(1502.8,2132.1) rotate(-90)" text-anchor="end" font-size="35.2">%B3</text>
<line x1="2105.3" y1="1528.7" x2="2123.5" y2="1528.7" stroke="#262626" stroke-width="2.7"/>
<text x="2135.5" y="1544.2" font-size="35.2">%Mean</text>
<text transform="translate(1551.0,2132.1) rotate(-90)" text-anchor="end" font-size="35.2">%Mean</text>
<line x1="2105.3" y1="1577.1" x2="2123.5" y2="1577.1" stroke="#262626" stroke-width="2.7"/>
<text x="2135.5" y="1592.6" font-size="35.2">%K1</text>
<text transform="translate(1599.2,2132.1) rotate(-90)" text-anchor="end" font-size="35.2">%K1</text>
<line x1="2105.3" y1="1625.5" x2="2123.5" y2="1625.5" stroke="#262626" stroke-width="2.7"/>
<text x="2135.5" y="1641.0" font-size="35.2">%K5</text>
<text transform="translate(1647.4,2132.1) rotate(-90)" text-anchor="end" font-size="35.2">%K5</text>
<line x1="2105.3" y1="1673.9" x2="2123.5" y2="1673.9" stroke="#262626" stroke-width="2.7"/>
<text x="2135.5" y="1689.4" font-size="35.2">%B13</text>
<text transform="translate(1695.6,2132.1) rotate(-90)" text-anchor="end" font-size="35.2">%B13</text>
<line x1="2105.3" y1="1722.2" x2="2123.5" y2="1722.2" stroke="#262626" stroke-width="2.7"/>
<text x="2135.5" y="1737.7" font-size="35.2">%K17</text>
<text transform="translate(1743.8,2132.1) rotate(-90)" text-anchor="end" font-size="35.2">%K17</text>
<line x1="2105.3" y1="1770.6" x2="2123.5" y2="1770.6" stroke="#262626" stroke-width="2.7"/>
<text x="2135.5" y="1786.1" font-size="35.2">%K10</text>
<text transform="translate(1792.0,2132.1) rotate(-90)" text-anchor="end" font-size="35.2">%K10</text>
<line x1="2105.3" y1="1819.0" x2="2123.5" y2="1819.0" stroke="#262626" stroke-width="2.7"/>
<text x="2135.5" y="1834.5" font-size="35.2">%UB5</text>
<text transform="translate(1840.2,2132.1) rotate(-90)" text-anchor="end" font-size="35.2">%UB5</text>
<line x1="2105.3" y1="1867.4" x2="2123.5" y2="1867.4" stroke="#262626" stroke-width="2.7"/>
<text x="2135.5" y="1882.9" font-size="35.2">%K16</text>
<text transform="translate(1888.4,2132.1) rotate(-90)" text-anchor="end" font-size="35.2">%K16</text>
<line x1="2105.3" y1="1915.8" x2="2123.5" y2="1915.8" stroke="#262626" stroke-width="2.7"/>
<text x="2135.5" y="1931.3" font-size="35.2">%K9</text>
<text transform="translate(1936.6,2132.1) rotate(-90)" text-anchor="end" font-size="35.2">%K9</text>
<line x1="2105.3" y1="1964.1" x2="2123.5" y2="1964.1" stroke="#262626" stroke-width="2.7"/>
<text x="2135.5" y="1979.6" font-size="35.2">%B12</text>
<text transform="translate(1984.8,2132.1) rotate(-90)" text-anchor="end" font-size="35.2">%B12</text>
<line x1="2105.3" y1="2012.5" x2="2123.5" y2="2012.5" stroke="#262626" stroke-width="2.7"/>
<text x="2135.5" y="2028.0" font-size="35.2">%UB13</text>
<text transform="translate(2033.0,2132.1) rotate(-90)" text-anchor="end" font-size="35.2">%UB13</text>
<line x1="2105.3" y1="2060.9" x2="2123.5" y2="2060.9" stroke="#262626" stroke-width="2.7"/>
<text x="2135.5" y="2076.4" font-size="35.2">%B9</text>
<text transform="translate(2081.2,2132.1) rotate(-90)" text-anchor="end" font-size="35.2">%B9</text>
<text x="1157.5" y="90.6" text-anchor="middle" font-size="64.6">Similarity Distance of Samples by OTU</text>
</svg></body></html>
